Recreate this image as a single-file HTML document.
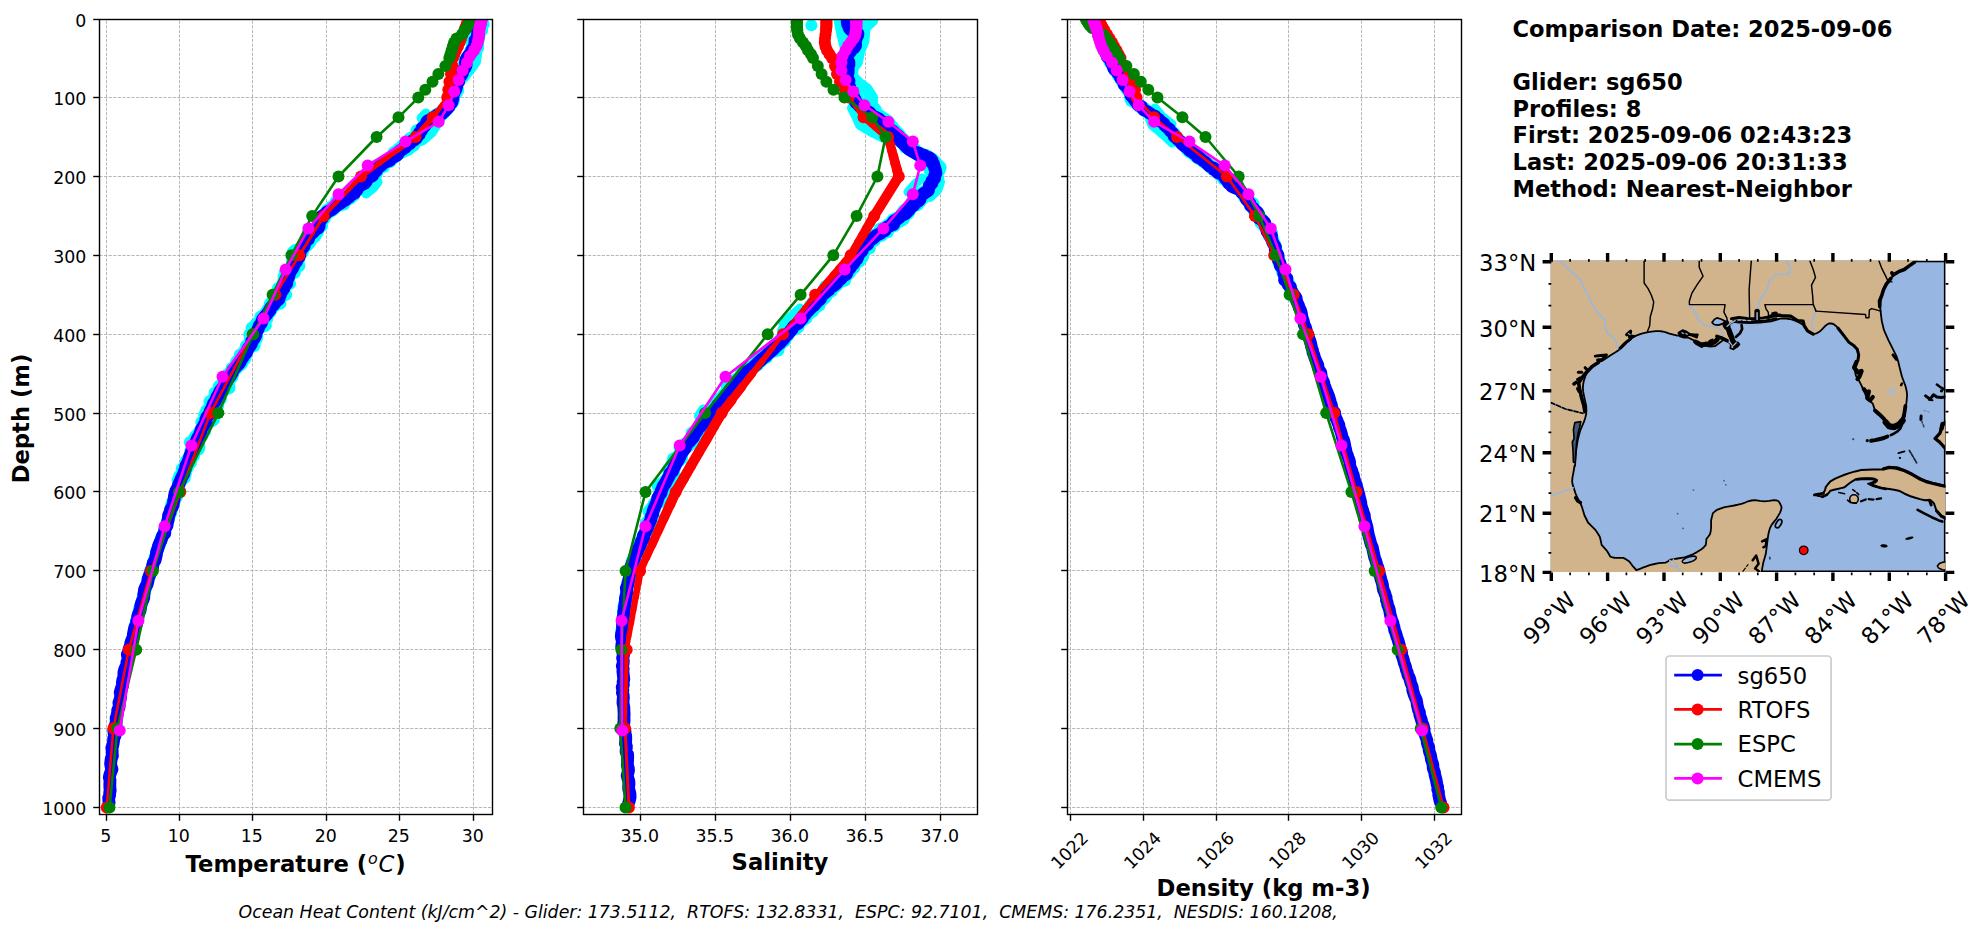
<!DOCTYPE html>
<html lang="en"><head><meta charset="utf-8"><title>Glider vs Model Comparison 2025-09-06</title>
<style>html,body{margin:0;padding:0;background:#fff}svg{display:block}</style></head>
<body>
<svg width="1987" height="934" viewBox="0 0 1987 934" font-family='"DejaVu Sans","Liberation Sans",sans-serif'>
<rect width="1987" height="934" fill="#fff"/>
<defs>
<clipPath id="c0"><rect x="99.5" y="19.5" width="393.0" height="795.0"/></clipPath>
<clipPath id="c1"><rect x="583.5" y="19.5" width="394.0" height="795.0"/></clipPath>
<clipPath id="c2"><rect x="1067.5" y="19.5" width="394.0" height="795.0"/></clipPath>
<clipPath id="cm"><rect x="1550.8" y="260.8" width="394.6" height="311.2"/></clipPath>
</defs>
<g stroke="#b0b0b0" stroke-width="1" stroke-opacity="0.9" stroke-dasharray="3.19 1.38" fill="none">
<path d="M106.5 814.5V19.5"/>
<path d="M179.5 814.5V19.5"/>
<path d="M252.5 814.5V19.5"/>
<path d="M326.5 814.5V19.5"/>
<path d="M399.5 814.5V19.5"/>
<path d="M473.5 814.5V19.5"/>
<path d="M99.5 19.5H492.5"/>
<path d="M99.5 97.5H492.5"/>
<path d="M99.5 176.5H492.5"/>
<path d="M99.5 255.5H492.5"/>
<path d="M99.5 334.5H492.5"/>
<path d="M99.5 413.5H492.5"/>
<path d="M99.5 491.5H492.5"/>
<path d="M99.5 570.5H492.5"/>
<path d="M99.5 649.5H492.5"/>
<path d="M99.5 728.5H492.5"/>
<path d="M99.5 807.5H492.5"/>
</g>
<g clip-path="url(#c0)">
<path d="M480.7 18.7 478.2 21.5 483.6 24.4 479.9 27.2 481.5 30.0 477.3 32.7 476.4 35.3 475.4 38.0 475.4 40.4 472.8 42.9 477.7 45.3 475.2 47.7 470.5 50.1 473.0 52.5 469.0 55.0 466.9 57.4 467.2 60.0 467.2 62.7 466.3 65.1 464.3 67.6 463.1 70.0 461.4 73.0 458.8 76.0 458.3 79.0 457.3 82.0 456.7 84.2 455.5 86.5 455.0 88.8 453.2 91.0 453.1 93.2 452.2 95.3 452.6 97.5 450.9 100.7 452.6 102.8 448.6 105.0 447.8 107.1 447.4 109.3 445.2 111.4 444.4 112.6 441.0 113.7 435.9 114.8 435.6 116.0 437.1 117.2 434.3 118.5 432.5 119.8 431.7 121.0 431.1 123.5 430.6 126.0 426.2 128.3 416.6 130.5 420.5 132.8 420.9 134.5 420.2 136.3 417.4 138.0 415.0 139.8 410.6 141.7 412.9 143.5 414.1 145.3 410.6 147.1 409.4 148.8 406.0 150.6 401.7 152.4 396.8 154.2 396.8 155.7 394.6 157.3 388.5 158.8 388.1 160.4 383.1 161.9 384.9 163.5 376.9 165.0 373.8 166.8 377.5 168.6 376.8 170.3 372.5 172.1 373.1 173.9 372.1 175.7 367.9 177.6 366.9 179.6 359.9 181.5 360.0 183.4 355.1 185.6 357.3 187.8 354.4 190.0 351.4 191.7 350.1 193.4 354.3 195.1 351.9 196.8 347.2 198.4 347.2 199.9 342.8 201.4 343.6 203.0 343.9 204.4 337.7 205.8 330.5 207.2 330.2 208.6 330.0 210.0 327.5 212.0 326.4 214.0 323.9 216.0 323.0 218.5 319.9 221.0 318.7 223.5 321.1 225.8 315.6 228.0 311.7 230.2 317.6 232.5 314.8 234.8 311.7 237.0 311.3 239.2 308.9 241.4 306.6 243.7 306.6 245.9 301.5 248.1 295.0 250.3 292.7 252.5 296.0 254.8 293.3 257.0 298.9 259.2 292.2 261.5 292.9 263.7 294.4 265.9 295.8 268.1 291.0 270.4 294.7 272.6 287.9 274.8 287.1 277.0 287.5 279.2 283.3 281.5 283.8 283.8 285.3 286.0 279.9 288.2 277.4 290.5 280.1 292.6 278.7 294.8 278.0 296.9 276.9 299.1 273.8 301.2 270.1 303.4 271.1 305.6 268.9 307.9 269.2 310.1 270.4 312.3 267.0 314.6 263.1 316.8 264.0 319.0 260.1 321.2 264.9 323.4 256.4 325.6 251.7 327.8 253.5 330.0 251.5 332.2 255.4 334.5 257.2 336.8 250.2 339.0 252.8 341.2 252.5 343.5 246.0 345.8 249.9 348.0 247.5 350.2 247.2 352.5 243.7 354.8 244.2 357.0 241.2 359.2 236.4 361.4 242.0 363.6 239.6 365.9 231.7 368.1 233.8 370.3 233.2 372.5 232.9 374.8 232.3 377.0 230.1 379.2 223.7 381.5 225.8 383.7 221.4 385.9 221.9 388.1 218.8 390.4 219.3 392.6 215.9 394.8 218.8 397.0 217.4 399.2 218.4 401.5 217.6 403.7 212.7 405.9 209.7 408.2 206.4 410.4 209.3 412.7 204.3 415.1 205.2 417.4 204.4 419.8 201.4 422.1 206.2 424.5 205.1 426.8 203.2 429.0 204.1 431.2 198.9 433.5 202.4 435.7 198.3 437.9 198.7 440.1 196.2 442.3 194.1 444.6 191.7 446.8 193.8 449.0 191.7 451.3 192.2 453.5 194.0 455.7 190.1 458.0 191.0 460.2 187.0 462.4 185.4 464.7 184.5 466.9 185.7 469.1 183.9 471.4 185.7 473.6 181.4 475.8 179.9 478.1 180.4 480.3 178.4 483.0 178.3 485.7 177.7 488.3 180.2 491.0 177.6 493.7 177.1 496.4 174.5 499.0 174.5 501.7 172.8 504.3 170.8 507.0 170.9 509.7 171.1 512.4 170.0 515.0 168.4 517.7 168.4 520.4 167.3 523.0 166.0 525.6 164.7 528.2 164.2 530.8 163.7 533.4 162.3 535.6 161.5 537.9 161.2 540.1 160.3 542.3 159.6 544.6 159.2 546.8 157.5 549.5 156.9 552.1 156.2 554.8 155.0 557.4 154.1 560.1 153.5 562.8 152.5 565.5 151.9 568.1 151.2 570.8 149.6 573.5 149.1 576.2 148.6 578.9 147.5 581.5 146.8 584.2 145.8 586.9 144.8 589.6 144.3 592.3 143.4 594.9 143.0 597.6 142.7 600.3 141.5 603.0 140.5 605.7 139.5 608.3 139.1 611.0 138.6 613.7 138.2 616.4 138.0 619.0 136.6 621.7 136.7 624.3 135.6 627.0 134.6 629.7 134.0 632.4 133.5 635.0 132.7 637.7" fill="none" stroke="#00ffff" stroke-width="12.2" stroke-linecap="round" stroke-linejoin="round"/>
<path d="M478.3 18.7 476.4 21.5 483.0 24.4 481.8 27.2 482.1 30.0 476.4 32.7 473.3 35.3 476.7 38.0 470.7 40.4 471.5 42.9 474.7 45.3 475.0 47.7 475.7 50.1 472.3 52.5 471.6 55.0 472.4 57.4 468.3 60.0 466.1 62.7 463.5 65.1 464.9 67.6 464.8 70.0 461.8 73.0 459.9 76.0 460.1 79.0 457.7 82.0 456.2 84.2 455.5 86.5 453.8 88.8 455.5 91.0 454.5 93.2 453.9 95.3 451.8 97.5 453.7 100.7 452.1 102.8 450.8 105.0 449.1 107.1 445.5 109.3 443.1 111.4 439.5 112.6 438.2 113.7 439.6 114.8 440.2 116.0 433.6 117.2 430.1 118.5 427.1 119.8 431.5 121.0 424.4 123.5 426.6 126.0 423.3 128.3 420.7 130.5 421.5 132.8 418.7 134.5 422.6 136.3 420.6 138.0 421.1 139.8 410.0 141.7 406.5 143.5 402.2 145.3 402.9 147.1 398.4 148.8 397.2 150.6 393.8 152.4 395.0 154.2 395.1 155.7 390.5 157.3 392.8 158.8 391.4 160.4 390.0 161.9 381.1 163.5 383.7 165.0 383.7 166.8 376.0 168.6 375.7 170.3 377.1 172.1 376.8 173.9 372.5 175.7 373.3 177.6 364.9 179.6 369.6 181.5 363.8 183.4 358.8 185.6 356.6 187.8 355.7 190.0 349.0 191.7 352.6 193.4 353.8 195.1 350.2 196.8 345.1 198.4 345.9 199.9 335.8 201.4 336.4 203.0 338.8 204.4 337.6 205.8 333.2 207.2 330.6 208.6 326.9 210.0 329.9 212.0 326.9 214.0 324.9 216.0 324.9 218.5 321.2 221.0 320.0 223.5 318.4 225.8 315.1 228.0 311.6 230.2 308.0 232.5 315.7 234.8 315.0 237.0 308.2 239.2 307.9 241.4 304.6 243.7 303.7 245.9 302.0 248.1 295.6 250.3 294.4 252.5 300.1 254.8 295.8 257.0 299.0 259.2 294.7 261.5 297.4 263.7 299.3 265.9 295.4 268.1 295.1 270.4 288.8 272.6 289.8 274.8 287.4 277.0 288.9 279.2 289.0 281.5 284.9 283.8 283.3 286.0 280.6 288.2 281.9 290.5 283.2 292.6 286.1 294.8 279.6 296.9 278.4 299.1 277.6 301.2 280.4 303.4 273.2 305.6 269.1 307.9 271.3 310.1 265.9 312.3 266.7 314.6 260.5 316.8 260.5 319.0 260.4 321.2 256.3 323.4 259.9 325.6 259.4 327.8 255.1 330.0 252.2 332.2 249.4 334.5 252.6 336.8 256.5 339.0 252.3 341.2 252.4 343.5 248.3 345.8 249.3 348.0 244.6 350.2 246.3 352.5 241.0 354.8 240.5 357.0 244.8 359.2 242.0 361.4 236.0 363.6 237.3 365.9 237.1 368.1 234.6 370.3 233.6 372.5 230.2 374.8 231.9 377.0 229.9 379.2 223.8 381.5 223.6 383.7 229.0 385.9 229.2 388.1 221.8 390.4 214.8 392.6 217.6 394.8 219.1 397.0 220.7 399.2 216.8 401.5 216.4 403.7 218.0 405.9 215.4 408.2 213.7 410.4 206.0 412.7 205.8 415.1 205.8 417.4 204.2 419.8 205.6 422.1 202.9 424.5 202.0 426.8 202.5 429.0 205.0 431.2 198.4 433.5 195.6 435.7 194.3 437.9 195.0 440.1 195.6 442.3 196.1 444.6 193.8 446.8 192.7 449.0 190.4 451.3 192.2 453.5 190.4 455.7 189.1 458.0 186.5 460.2 187.8 462.4 189.1 464.7 185.7 466.9 181.9 469.1 182.6 471.4 182.9 473.6 179.4 475.8 179.1 478.1 179.1 480.3 178.7 483.0 178.1 485.7 177.2 488.3 175.8 491.0 176.8 493.7 174.9 496.4 174.1 499.0 172.3 501.7 172.3 504.3 172.4 507.0 171.7 509.7 170.8 512.4 170.0 515.0 168.0 517.7 168.2 520.4 166.6 523.0 166.1 525.6 164.7 528.2 164.2 530.8 163.7 533.4 162.6 535.6 161.9 537.9 160.9 540.1 160.0 542.3 158.6 544.6 158.1 546.8 157.4 549.5 156.6 552.1 156.5 554.8 155.5 557.4 154.9 560.1 153.7 562.8 152.8 565.5 151.6 568.1 150.5 570.8 149.6 573.5 149.3 576.2 148.4 578.9 147.4 581.5 146.9 584.2 145.7 586.9 145.5 589.6 144.6 592.3 143.8 594.9 142.9 597.6 142.6 600.3 142.1 603.0 140.9 605.7 140.6 608.3 139.4 611.0 138.5 613.7 137.7 616.4 136.8 619.0 136.1 621.7 135.6 624.3 135.5 627.0 134.7 629.7 134.3 632.4 134.1 635.0 133.4 637.7" fill="none" stroke="#00ffff" stroke-width="12.2" stroke-linecap="round" stroke-linejoin="round"/>
<path d="M480.1 18.7 475.0 21.5 474.6 24.4 475.5 27.2 473.3 30.0 475.1 32.7 474.7 35.3 473.5 38.0 473.0 40.4 474.4 42.9 478.1 45.3 478.0 47.7 471.8 50.1 473.5 52.5 472.0 55.0 468.7 57.4 464.6 60.0 464.9 62.7 464.1 65.1 464.7 67.6 461.0 70.0 458.6 73.0 458.4 76.0 457.7 79.0 457.3 82.0 455.4 84.2 455.7 86.5 457.8 88.8 457.9 91.0 456.5 93.2 452.9 95.3 453.2 97.5 451.4 100.7 450.2 102.8 448.6 105.0 447.0 107.1 444.9 109.3 442.6 111.4 442.3 112.6 443.3 113.7 438.7 114.8 441.1 116.0 435.9 117.2 427.8 118.5 426.3 119.8 432.4 121.0 430.9 123.5 426.4 126.0 422.1 128.3 424.5 130.5 421.8 132.8 418.5 134.5 418.2 136.3 410.1 138.0 411.9 139.8 410.6 141.7 413.6 143.5 411.5 145.3 404.7 147.1 402.4 148.8 399.1 150.6 394.3 152.4 395.2 154.2 394.0 155.7 390.7 157.3 390.3 158.8 386.8 160.4 387.4 161.9 381.1 163.5 383.1 165.0 381.6 166.8 378.8 168.6 373.7 170.3 376.8 172.1 375.0 173.9 372.8 175.7 371.4 177.6 370.6 179.6 363.2 181.5 361.0 183.4 364.2 185.6 362.3 187.8 358.2 190.0 351.9 191.7 354.0 193.4 350.0 195.1 348.5 196.8 350.5 198.4 344.2 199.9 340.4 201.4 339.6 203.0 336.9 204.4 333.3 205.8 334.7 207.2 334.6 208.6 333.5 210.0 326.0 212.0 325.9 214.0 323.2 216.0 324.1 218.5 322.2 221.0 320.7 223.5 321.9 225.8 317.3 228.0 316.9 230.2 313.6 232.5 310.7 234.8 311.5 237.0 310.9 239.2 310.6 241.4 309.2 243.7 304.3 245.9 302.1 248.1 302.9 250.3 302.6 252.5 300.2 254.8 299.0 257.0 293.0 259.2 294.9 261.5 294.3 263.7 292.1 265.9 290.8 268.1 294.0 270.4 285.0 272.6 285.2 274.8 283.7 277.0 286.5 279.2 284.1 281.5 289.9 283.8 283.7 286.0 278.2 288.2 284.1 290.5 278.9 292.6 280.2 294.8 282.1 296.9 277.3 299.1 274.7 301.2 275.2 303.4 275.0 305.6 271.0 307.9 267.3 310.1 268.5 312.3 264.1 314.6 265.0 316.8 267.2 319.0 262.1 321.2 260.7 323.4 265.7 325.6 258.4 327.8 255.5 330.0 253.7 332.2 256.8 334.5 256.3 336.8 253.3 339.0 250.2 341.2 252.5 343.5 254.6 345.8 247.8 348.0 247.2 350.2 244.5 352.5 239.9 354.8 245.7 357.0 239.4 359.2 241.0 361.4 238.5 363.6 239.0 365.9 233.6 368.1 233.6 370.3 230.1 372.5 226.8 374.8 229.4 377.0 224.0 379.2 223.6 381.5 223.5 383.7 219.0 385.9 222.1 388.1 219.5 390.4 219.7 392.6 215.5 394.8 216.9 397.0 213.4 399.2 209.6 401.5 214.0 403.7 213.5 405.9 212.1 408.2 212.0 410.4 213.1 412.7 208.3 415.1 209.9 417.4 213.7 419.8 209.5 422.1 203.8 424.5 202.0 426.8 204.9 429.0 199.2 431.2 200.3 433.5 201.8 435.7 197.5 437.9 197.0 440.1 189.9 442.3 198.8 444.6 199.2 446.8 198.9 449.0 193.3 451.3 192.3 453.5 191.3 455.7 191.2 458.0 190.6 460.2 190.8 462.4 184.9 464.7 188.2 466.9 186.0 469.1 184.7 471.4 184.6 473.6 182.5 475.8 184.6 478.1 177.8 480.3 180.3 483.0 178.4 485.7 178.6 488.3 177.0 491.0 176.8 493.7 175.4 496.4 175.0 499.0 173.5 501.7 171.4 504.3 172.3 507.0 170.9 509.7 170.0 512.4 168.7 515.0 169.1 517.7 167.6 520.4 167.1 523.0 166.6 525.6 165.7 528.2 164.6 530.8 163.3 533.4 162.6 535.6 161.6 537.9 160.9 540.1 160.5 542.3 159.5 544.6 158.2 546.8 157.2 549.5 156.8 552.1 156.0 554.8 155.3 557.4 154.2 560.1 153.7 562.8 152.6 565.5 151.6 568.1 150.9 570.8 150.1 573.5 149.7 576.2 148.1 578.9 147.4 581.5 146.9 584.2 146.2 586.9 145.1 589.6 144.8 592.3 143.4 594.9 142.9 597.6 142.7 600.3 141.7 603.0 140.6 605.7 139.7 608.3 139.7 611.0 138.5 613.7 138.2 616.4 137.7 619.0 136.2 621.7 135.7 624.3 135.3 627.0 135.0 629.7 134.3 632.4 133.4 635.0 132.8 637.7" fill="none" stroke="#00ffff" stroke-width="12.2" stroke-linecap="round" stroke-linejoin="round"/>
<path d="M482.5 19.0 L481.5 26.0 L477.0 47.5 L475.0 61.4 L470.5 67.8 L462.0 78.5" fill="none" stroke="#00ffff" stroke-width="12" stroke-linecap="round" stroke-linejoin="round"/>
<path d="M440.0 118.0 L436.5 125.0 L431.5 132.8 L423.0 140.0" fill="none" stroke="#00ffff" stroke-width="10" stroke-linecap="round" stroke-linejoin="round"/>
<path d="M426.0 113.0 L421.0 118.0" fill="none" stroke="#00ffff" stroke-width="9" stroke-linecap="round" stroke-linejoin="round"/>
<path d="M378.0 182.0 L373.5 188.0 L366.0 194.0" fill="none" stroke="#00ffff" stroke-width="9" stroke-linecap="round" stroke-linejoin="round"/>
<path d="M477.3 18.7 477.3 21.5 476.8 24.4 476.1 27.2 477.2 30.0 478.0 32.7 477.3 35.3 477.8 38.0 475.0 40.4 474.9 42.9 475.3 45.3 473.5 47.7 471.8 50.1 471.4 52.5 468.9 55.0 467.2 57.4 466.0 60.0 465.5 62.7 466.1 65.1 465.2 67.6 463.0 70.0 462.5 73.0 460.8 76.0 457.3 79.0 458.5 82.0 454.9 84.2 456.7 86.5 456.0 88.8 454.9 91.0 453.8 93.2 453.0 95.3 453.1 97.5 452.2 100.7 451.7 102.8 448.6 105.0 448.7 107.1 446.6 109.3 444.6 111.4 441.6 112.6 442.2 113.7 437.6 114.8 436.2 116.0 434.3 117.2 431.9 118.5 430.0 119.8 427.3 121.0 426.3 123.5 424.7 126.0 421.9 128.3 421.5 130.5 419.5 132.8 419.3 134.5 416.9 136.3 416.6 138.0 414.4 139.8 410.9 141.7 410.1 143.5 405.6 145.3 405.8 147.1 403.1 148.8 400.4 150.6 398.4 152.4 397.9 154.2 396.4 155.7 392.8 157.3 389.5 158.8 390.0 160.4 385.5 161.9 383.1 163.5 381.7 165.0 379.2 166.8 377.1 168.6 376.6 170.3 374.9 172.1 372.6 173.9 372.5 175.7 368.8 177.6 366.4 179.6 366.3 181.5 364.7 183.4 360.3 185.6 357.6 187.8 357.0 190.0 355.3 191.7 354.2 193.4 350.8 195.1 349.4 196.8 347.0 198.4 345.6 199.9 342.9 201.4 340.8 203.0 338.2 204.4 336.4 205.8 334.7 207.2 333.0 208.6 331.2 210.0 327.1 212.0 325.4 214.0 322.1 216.0 322.3 218.5 319.4 221.0 319.3 223.5 319.2 225.8 318.3 228.0 315.0 230.2 313.1 232.5 310.1 234.8 308.9 237.0 308.5 239.2 305.4 241.4 304.6 243.7 304.3 245.9 302.5 248.1 300.8 250.3 299.6 252.5 299.9 254.8 299.1 257.0 297.4 259.2 296.7 261.5 293.7 263.7 293.7 265.9 292.7 268.1 291.0 270.4 289.9 272.6 289.2 274.8 288.6 277.0 287.4 279.2 286.9 281.5 286.7 283.8 284.7 286.0 284.0 288.2 282.6 290.5 280.6 292.6 280.4 294.8 278.3 296.9 279.0 299.1 276.3 301.2 274.8 303.4 272.8 305.6 270.6 307.9 270.1 310.1 268.2 312.3 266.6 314.6 264.5 316.8 262.8 319.0 261.9 321.2 261.2 323.4 259.3 325.6 258.6 327.8 257.7 330.0 256.2 332.2 256.0 334.5 255.1 336.8 253.8 339.0 251.7 341.2 251.6 343.5 250.2 345.8 248.4 348.0 247.4 350.2 246.5 352.5 244.3 354.8 243.2 357.0 241.3 359.2 240.5 361.4 239.2 363.6 236.8 365.9 234.9 368.1 233.0 370.3 232.3 372.5 231.0 374.8 229.7 377.0 227.9 379.2 226.8 381.5 224.9 383.7 223.8 385.9 222.5 388.1 220.6 390.4 219.4 392.6 218.4 394.8 217.0 397.0 216.2 399.2 215.1 401.5 213.4 403.7 212.7 405.9 211.8 408.2 210.5 410.4 209.8 412.7 208.6 415.1 206.7 417.4 205.8 419.8 206.2 422.1 204.2 424.5 203.0 426.8 201.5 429.0 201.0 431.2 199.9 433.5 199.5 435.7 197.6 437.9 196.7 440.1 195.7 442.3 194.9 444.6 194.6 446.8 192.9 449.0 191.5 451.3 191.0 453.5 189.8 455.7 189.4 458.0 188.7 460.2 187.7 462.4 186.5 464.7 185.6 466.9 185.4 469.1 184.3 471.4 183.8 473.6 182.6 475.8 181.4 478.1 180.6 480.3 179.4 483.0 178.3 485.7 177.4 488.3 175.8 491.0 175.0 493.7 174.4 496.4 174.2 499.0 173.6 501.7 173.2 504.3 172.3 507.0 170.5 509.7 170.1 512.4 168.7 515.0 168.4 517.7 168.0 520.4 167.3 523.0 167.0 525.6 165.4 528.2 164.7 530.8 164.8 533.4 162.7 535.6 161.8 537.9 161.1 540.1 160.0 542.3 159.1 544.6 158.3 546.8 157.6 549.5 156.6 552.1 156.3 554.8 155.8 557.4 155.1 560.1 153.3 562.8 152.7 565.5 152.5 568.1 150.9 570.8 150.4 573.5 149.1 576.2 148.1 578.9 147.9 581.5 147.2 584.2 145.6 586.9 144.5 589.6 144.2 592.3 143.8 594.9 143.8 597.6 142.6 600.3 141.5 603.0 140.8 605.7 140.4 608.3 139.9 611.0 138.6 613.7 137.7 616.4 137.8 619.0 136.6 621.7 136.5 624.3 134.9 627.0 134.3 629.7 133.7 632.4 133.3 635.0 133.2 637.7 131.7 640.4 130.9 642.6 130.6 644.9 129.8 647.1 129.0 649.4 128.6 652.0 127.3 654.5 127.9 657.1 127.9 659.7 126.9 662.3 126.7 664.9 125.6 667.4 124.5 670.0 123.9 672.5 123.9 675.0 123.7 677.5 122.8 680.0 122.4 682.5 122.6 685.0 121.7 687.5 120.9 690.0 120.2 692.5 120.7 695.1 120.5 697.6 120.0 700.1 118.9 702.7 119.3 705.2 118.9 707.8 117.7 710.3 117.6 712.9 117.0 715.5 116.1 718.1 116.3 720.6 116.1 723.2 115.1 725.8 114.4 728.4 113.8 730.8 114.1 733.3 115.0 735.7 113.7 738.2 113.6 740.6 113.2 743.1 112.7 745.5 111.8 748.0 112.2 750.4 112.1 753.1 112.4 755.8 111.3 758.5 110.9 761.2 110.6 763.9 111.1 766.5 112.0 769.2 110.9 771.9 109.9 774.6 109.3 777.3 110.0 780.0 109.9 782.6 109.8 785.1 109.9 787.7 110.2 790.2 109.7 792.8 109.6 795.3 108.7 797.9 108.8 800.4 109.1 803.0" fill="none" stroke="#0000ff" stroke-width="12.8" stroke-linecap="round" stroke-linejoin="round"/>
<path d="M468.3 18.7 L468.0 20.3" fill="none" stroke="#ff0000" stroke-width="2.6" stroke-linecap="round" stroke-linejoin="round"/>
<path d="M468.0 20.3 L467.6 21.9" fill="none" stroke="#ff0000" stroke-width="2.6" stroke-linecap="round" stroke-linejoin="round"/>
<path d="M467.6 21.9 L467.2 23.4" fill="none" stroke="#ff0000" stroke-width="2.6" stroke-linecap="round" stroke-linejoin="round"/>
<path d="M467.2 23.4 L466.7 25.0" fill="none" stroke="#ff0000" stroke-width="2.6" stroke-linecap="round" stroke-linejoin="round"/>
<path d="M466.7 25.0 L466.0 26.6" fill="none" stroke="#ff0000" stroke-width="2.6" stroke-linecap="round" stroke-linejoin="round"/>
<path d="M466.0 26.6 L465.4 28.2" fill="none" stroke="#ff0000" stroke-width="2.6" stroke-linecap="round" stroke-linejoin="round"/>
<path d="M465.4 28.2 L464.6 30.5" fill="none" stroke="#ff0000" stroke-width="2.6" stroke-linecap="round" stroke-linejoin="round"/>
<path d="M464.6 30.5 L462.5 34.5" fill="none" stroke="#ff0000" stroke-width="2.6" stroke-linecap="round" stroke-linejoin="round"/>
<path d="M462.5 34.5 L461.0 38.4" fill="none" stroke="#ff0000" stroke-width="2.6" stroke-linecap="round" stroke-linejoin="round"/>
<path d="M461.0 38.4 L459.5 42.4" fill="none" stroke="#ff0000" stroke-width="2.6" stroke-linecap="round" stroke-linejoin="round"/>
<path d="M459.5 42.4 L458.0 46.3" fill="none" stroke="#ff0000" stroke-width="2.6" stroke-linecap="round" stroke-linejoin="round"/>
<path d="M458.0 46.3 L456.0 50.3" fill="none" stroke="#ff0000" stroke-width="2.6" stroke-linecap="round" stroke-linejoin="round"/>
<path d="M456.0 50.3 L454.3 54.2" fill="none" stroke="#ff0000" stroke-width="2.6" stroke-linecap="round" stroke-linejoin="round"/>
<path d="M454.3 54.2 L453.0 58.1" fill="none" stroke="#ff0000" stroke-width="2.6" stroke-linecap="round" stroke-linejoin="round"/>
<path d="M453.0 58.1 L452.5 66.0" fill="none" stroke="#ff0000" stroke-width="2.6" stroke-linecap="round" stroke-linejoin="round"/>
<path d="M452.5 66.0 L451.0 73.9" fill="none" stroke="#ff0000" stroke-width="2.6" stroke-linecap="round" stroke-linejoin="round"/>
<path d="M451.0 73.9 L449.4 81.8" fill="none" stroke="#ff0000" stroke-width="2.6" stroke-linecap="round" stroke-linejoin="round"/>
<path d="M449.4 81.8 L448.3 89.7" fill="none" stroke="#ff0000" stroke-width="2.6" stroke-linecap="round" stroke-linejoin="round"/>
<path d="M448.3 89.7 L448.1 91.0" fill="none" stroke="#ff0000" stroke-width="2.716666666666667" stroke-linecap="round" stroke-linejoin="round"/>
<path d="M448.1 91.0 L447.9 92.3" fill="none" stroke="#ff0000" stroke-width="2.95" stroke-linecap="round" stroke-linejoin="round"/>
<path d="M447.9 92.3 L447.8 93.6" fill="none" stroke="#ff0000" stroke-width="3.1833333333333336" stroke-linecap="round" stroke-linejoin="round"/>
<path d="M447.8 93.6 L447.6 95.0" fill="none" stroke="#ff0000" stroke-width="3.4166666666666665" stroke-linecap="round" stroke-linejoin="round"/>
<path d="M447.6 95.0 L447.4 96.3" fill="none" stroke="#ff0000" stroke-width="3.65" stroke-linecap="round" stroke-linejoin="round"/>
<path d="M447.4 96.3 L447.2 97.6" fill="none" stroke="#ff0000" stroke-width="3.8833333333333337" stroke-linecap="round" stroke-linejoin="round"/>
<path d="M447.2 97.6 L444.8 100.9" fill="none" stroke="#ff0000" stroke-width="4.125" stroke-linecap="round" stroke-linejoin="round"/>
<path d="M444.8 100.9 L442.4 104.2" fill="none" stroke="#ff0000" stroke-width="4.375" stroke-linecap="round" stroke-linejoin="round"/>
<path d="M442.4 104.2 L440.0 107.4" fill="none" stroke="#ff0000" stroke-width="4.625" stroke-linecap="round" stroke-linejoin="round"/>
<path d="M440.0 107.4 L437.6 110.7" fill="none" stroke="#ff0000" stroke-width="4.875" stroke-linecap="round" stroke-linejoin="round"/>
<path d="M437.6 110.7 L435.2 114.0" fill="none" stroke="#ff0000" stroke-width="5.125" stroke-linecap="round" stroke-linejoin="round"/>
<path d="M435.2 114.0 L432.8 117.3" fill="none" stroke="#ff0000" stroke-width="5.375" stroke-linecap="round" stroke-linejoin="round"/>
<path d="M432.8 117.3 L415.6 137.0" fill="none" stroke="#ff0000" stroke-width="5.5" stroke-linecap="round" stroke-linejoin="round"/>
<path d="M415.6 137.0 L406.5 143.6" fill="none" stroke="#ff0000" stroke-width="5.458333333333333" stroke-linecap="round" stroke-linejoin="round"/>
<path d="M406.5 143.6 L397.4 150.2" fill="none" stroke="#ff0000" stroke-width="5.375" stroke-linecap="round" stroke-linejoin="round"/>
<path d="M397.4 150.2 L388.3 156.7" fill="none" stroke="#ff0000" stroke-width="5.291666666666667" stroke-linecap="round" stroke-linejoin="round"/>
<path d="M388.3 156.7 L379.2 163.3" fill="none" stroke="#ff0000" stroke-width="5.208333333333333" stroke-linecap="round" stroke-linejoin="round"/>
<path d="M379.2 163.3 L370.1 169.9" fill="none" stroke="#ff0000" stroke-width="5.125" stroke-linecap="round" stroke-linejoin="round"/>
<path d="M370.1 169.9 L361.0 176.5" fill="none" stroke="#ff0000" stroke-width="5.041666666666667" stroke-linecap="round" stroke-linejoin="round"/>
<path d="M361.0 176.5 L354.8 183.0" fill="none" stroke="#ff0000" stroke-width="4.875" stroke-linecap="round" stroke-linejoin="round"/>
<path d="M354.8 183.0 L348.6 189.6" fill="none" stroke="#ff0000" stroke-width="4.625" stroke-linecap="round" stroke-linejoin="round"/>
<path d="M348.6 189.6 L342.4 196.2" fill="none" stroke="#ff0000" stroke-width="4.375" stroke-linecap="round" stroke-linejoin="round"/>
<path d="M342.4 196.2 L336.2 202.8" fill="none" stroke="#ff0000" stroke-width="4.125" stroke-linecap="round" stroke-linejoin="round"/>
<path d="M336.2 202.8 L330.0 209.3" fill="none" stroke="#ff0000" stroke-width="3.875" stroke-linecap="round" stroke-linejoin="round"/>
<path d="M330.0 209.3 L323.8 215.9" fill="none" stroke="#ff0000" stroke-width="3.625" stroke-linecap="round" stroke-linejoin="round"/>
<path d="M323.8 215.9 L319.7 222.5" fill="none" stroke="#ff0000" stroke-width="3.425" stroke-linecap="round" stroke-linejoin="round"/>
<path d="M319.7 222.5 L315.6 229.0" fill="none" stroke="#ff0000" stroke-width="3.275" stroke-linecap="round" stroke-linejoin="round"/>
<path d="M315.6 229.0 L311.6 235.6" fill="none" stroke="#ff0000" stroke-width="3.125" stroke-linecap="round" stroke-linejoin="round"/>
<path d="M311.6 235.6 L307.5 242.2" fill="none" stroke="#ff0000" stroke-width="2.975" stroke-linecap="round" stroke-linejoin="round"/>
<path d="M307.5 242.2 L303.4 248.8" fill="none" stroke="#ff0000" stroke-width="2.825" stroke-linecap="round" stroke-linejoin="round"/>
<path d="M303.4 248.8 L299.3 255.3" fill="none" stroke="#ff0000" stroke-width="2.675" stroke-linecap="round" stroke-linejoin="round"/>
<path d="M299.3 255.3 L275.3 294.8" fill="none" stroke="#ff0000" stroke-width="2.6" stroke-linecap="round" stroke-linejoin="round"/>
<path d="M275.3 294.8 L252.7 334.2" fill="none" stroke="#ff0000" stroke-width="2.6" stroke-linecap="round" stroke-linejoin="round"/>
<path d="M252.7 334.2 L210.4 413.1" fill="none" stroke="#ff0000" stroke-width="2.6" stroke-linecap="round" stroke-linejoin="round"/>
<path d="M210.4 413.1 L180.3 492.0" fill="none" stroke="#ff0000" stroke-width="2.6" stroke-linecap="round" stroke-linejoin="round"/>
<path d="M180.3 492.0 L150.9 570.9" fill="none" stroke="#ff0000" stroke-width="2.6" stroke-linecap="round" stroke-linejoin="round"/>
<path d="M150.9 570.9 L128.8 649.7" fill="none" stroke="#ff0000" stroke-width="2.6" stroke-linecap="round" stroke-linejoin="round"/>
<path d="M128.8 649.7 L113.4 728.6" fill="none" stroke="#ff0000" stroke-width="2.6" stroke-linecap="round" stroke-linejoin="round"/>
<path d="M113.4 728.6 L106.7 807.5" fill="none" stroke="#ff0000" stroke-width="2.6" stroke-linecap="round" stroke-linejoin="round"/>
<g fill="#ff0000"><circle cx="468.3" cy="18.7" r="6"/><circle cx="468.0" cy="20.3" r="6"/><circle cx="467.6" cy="21.9" r="6"/><circle cx="467.2" cy="23.4" r="6"/><circle cx="466.7" cy="25.0" r="6"/><circle cx="466.0" cy="26.6" r="6"/><circle cx="465.4" cy="28.2" r="6"/><circle cx="464.6" cy="30.5" r="6"/><circle cx="462.5" cy="34.5" r="6"/><circle cx="461.0" cy="38.4" r="6"/><circle cx="459.5" cy="42.4" r="6"/><circle cx="458.0" cy="46.3" r="6"/><circle cx="456.0" cy="50.3" r="6"/><circle cx="454.3" cy="54.2" r="6"/><circle cx="453.0" cy="58.1" r="6"/><circle cx="452.5" cy="66.0" r="6"/><circle cx="451.0" cy="73.9" r="6"/><circle cx="449.4" cy="81.8" r="6"/><circle cx="448.3" cy="89.7" r="6"/><circle cx="447.2" cy="97.6" r="6"/><circle cx="432.8" cy="117.3" r="6"/><circle cx="415.6" cy="137.0" r="6"/><circle cx="361.0" cy="176.5" r="6"/><circle cx="323.8" cy="215.9" r="6"/><circle cx="299.3" cy="255.3" r="6"/><circle cx="275.3" cy="294.8" r="6"/><circle cx="252.7" cy="334.2" r="6"/><circle cx="210.4" cy="413.1" r="6"/><circle cx="180.3" cy="492.0" r="6"/><circle cx="150.9" cy="570.9" r="6"/><circle cx="128.8" cy="649.7" r="6"/><circle cx="113.4" cy="728.6" r="6"/><circle cx="106.7" cy="807.5" r="6"/></g>
<path d="M470.5 18.7 L470.2 20.3 L469.7 21.9 L469.0 23.4 L468.3 25.0 L467.3 26.6 L466.4 28.2 L464.4 30.5 L462.0 34.5 L456.5 38.4 L454.1 42.4 L452.9 46.3 L451.7 50.3 L450.5 54.2 L449.3 58.1 L445.4 66.0 L438.4 73.9 L432.5 81.8 L425.3 89.7 L418.3 97.6 L398.5 117.3 L376.6 137.0 L338.5 176.5 L312.2 215.9 L291.4 255.3 L272.6 294.8 L253.2 334.2 L218.4 413.1 L179.0 492.0 L152.9 570.9 L136.2 649.7 L117.4 728.6 L109.5 807.5" fill="none" stroke="#008000" stroke-width="2.6" stroke-linecap="round" stroke-linejoin="round"/>
<g fill="#008000"><circle cx="470.5" cy="18.7" r="6"/><circle cx="470.2" cy="20.3" r="6"/><circle cx="469.7" cy="21.9" r="6"/><circle cx="469.0" cy="23.4" r="6"/><circle cx="468.3" cy="25.0" r="6"/><circle cx="467.3" cy="26.6" r="6"/><circle cx="466.4" cy="28.2" r="6"/><circle cx="464.4" cy="30.5" r="6"/><circle cx="462.0" cy="34.5" r="6"/><circle cx="456.5" cy="38.4" r="6"/><circle cx="454.1" cy="42.4" r="6"/><circle cx="452.9" cy="46.3" r="6"/><circle cx="451.7" cy="50.3" r="6"/><circle cx="450.5" cy="54.2" r="6"/><circle cx="449.3" cy="58.1" r="6"/><circle cx="445.4" cy="66.0" r="6"/><circle cx="438.4" cy="73.9" r="6"/><circle cx="432.5" cy="81.8" r="6"/><circle cx="425.3" cy="89.7" r="6"/><circle cx="418.3" cy="97.6" r="6"/><circle cx="398.5" cy="117.3" r="6"/><circle cx="376.6" cy="137.0" r="6"/><circle cx="338.5" cy="176.5" r="6"/><circle cx="312.2" cy="215.9" r="6"/><circle cx="291.4" cy="255.3" r="6"/><circle cx="272.6" cy="294.8" r="6"/><circle cx="253.2" cy="334.2" r="6"/><circle cx="218.4" cy="413.1" r="6"/><circle cx="179.0" cy="492.0" r="6"/><circle cx="152.9" cy="570.9" r="6"/><circle cx="136.2" cy="649.7" r="6"/><circle cx="117.4" cy="728.6" r="6"/><circle cx="109.5" cy="807.5" r="6"/></g>
<path d="M481.5 19.1 L481.5 19.9 L481.4 20.8 L481.3 21.7 L481.1 22.7 L480.8 23.8 L480.4 25.0 L480.0 26.2 L479.6 27.7 L479.4 29.3 L479.3 31.2 L479.2 33.3 L479.0 35.7 L478.6 38.6 L477.9 41.9 L476.5 45.9 L474.0 50.5 L470.0 56.1 L466.9 62.7 L462.6 70.6 L458.6 80.1 L454.3 91.5 L448.6 105.3 L438.7 121.8 L405.5 141.6 L367.7 165.5 L338.5 194.2 L308.4 228.6 L285.7 269.6 L263.5 318.6 L222.5 376.8 L191.4 445.5 L164.6 526.3 L138.4 620.8 L119.7 730.5" fill="none" stroke="#ff00ff" stroke-width="2.6" stroke-linecap="round" stroke-linejoin="round"/>
<g fill="#ff00ff"><circle cx="481.5" cy="19.1" r="6"/><circle cx="481.5" cy="19.9" r="6"/><circle cx="481.4" cy="20.8" r="6"/><circle cx="481.3" cy="21.7" r="6"/><circle cx="481.1" cy="22.7" r="6"/><circle cx="480.8" cy="23.8" r="6"/><circle cx="480.4" cy="25.0" r="6"/><circle cx="480.0" cy="26.2" r="6"/><circle cx="479.6" cy="27.7" r="6"/><circle cx="479.4" cy="29.3" r="6"/><circle cx="479.3" cy="31.2" r="6"/><circle cx="479.2" cy="33.3" r="6"/><circle cx="479.0" cy="35.7" r="6"/><circle cx="478.6" cy="38.6" r="6"/><circle cx="477.9" cy="41.9" r="6"/><circle cx="476.5" cy="45.9" r="6"/><circle cx="474.0" cy="50.5" r="6"/><circle cx="470.0" cy="56.1" r="6"/><circle cx="466.9" cy="62.7" r="6"/><circle cx="462.6" cy="70.6" r="6"/><circle cx="458.6" cy="80.1" r="6"/><circle cx="454.3" cy="91.5" r="6"/><circle cx="448.6" cy="105.3" r="6"/><circle cx="438.7" cy="121.8" r="6"/><circle cx="405.5" cy="141.6" r="6"/><circle cx="367.7" cy="165.5" r="6"/><circle cx="338.5" cy="194.2" r="6"/><circle cx="308.4" cy="228.6" r="6"/><circle cx="285.7" cy="269.6" r="6"/><circle cx="263.5" cy="318.6" r="6"/><circle cx="222.5" cy="376.8" r="6"/><circle cx="191.4" cy="445.5" r="6"/><circle cx="164.6" cy="526.3" r="6"/><circle cx="138.4" cy="620.8" r="6"/><circle cx="119.7" cy="730.5" r="6"/></g>
</g>
<rect x="99.5" y="19.5" width="393.0" height="795.0" fill="none" stroke="#000" stroke-width="1.4"/>
<g stroke="#000" stroke-width="1.4">
<path d="M106.5 814.5v6.3"/>
<path d="M179.5 814.5v6.3"/>
<path d="M252.5 814.5v6.3"/>
<path d="M326.5 814.5v6.3"/>
<path d="M399.5 814.5v6.3"/>
<path d="M473.5 814.5v6.3"/>
<path d="M99.5 19.5h-6.3"/>
<path d="M99.5 97.5h-6.3"/>
<path d="M99.5 176.5h-6.3"/>
<path d="M99.5 255.5h-6.3"/>
<path d="M99.5 334.5h-6.3"/>
<path d="M99.5 413.5h-6.3"/>
<path d="M99.5 491.5h-6.3"/>
<path d="M99.5 570.5h-6.3"/>
<path d="M99.5 649.5h-6.3"/>
<path d="M99.5 728.5h-6.3"/>
<path d="M99.5 807.5h-6.3"/>
</g>
<g font-size="17.35" text-anchor="middle">
<text x="105.7" y="841.7">5</text>
<text x="178.7" y="841.7">10</text>
<text x="251.7" y="841.7">15</text>
<text x="325.7" y="841.7">20</text>
<text x="398.7" y="841.7">25</text>
<text x="472.7" y="841.7">30</text>
</g>
<g stroke="#b0b0b0" stroke-width="1" stroke-opacity="0.9" stroke-dasharray="3.19 1.38" fill="none">
<path d="M640.5 814.5V19.5"/>
<path d="M715.5 814.5V19.5"/>
<path d="M790.5 814.5V19.5"/>
<path d="M865.5 814.5V19.5"/>
<path d="M940.5 814.5V19.5"/>
<path d="M583.5 19.5H977.5"/>
<path d="M583.5 97.5H977.5"/>
<path d="M583.5 176.5H977.5"/>
<path d="M583.5 255.5H977.5"/>
<path d="M583.5 334.5H977.5"/>
<path d="M583.5 413.5H977.5"/>
<path d="M583.5 491.5H977.5"/>
<path d="M583.5 570.5H977.5"/>
<path d="M583.5 649.5H977.5"/>
<path d="M583.5 728.5H977.5"/>
<path d="M583.5 807.5H977.5"/>
</g>
<g clip-path="url(#c1)">
<path d="M848.6 19.0 845.9 21.7 848.1 24.3 845.0 27.0 850.7 28.3 854.9 29.7 853.5 31.0 850.6 32.5 855.6 33.9 859.4 35.4 859.4 37.7 855.1 40.0 852.4 42.0 851.5 44.0 853.3 46.0 847.3 47.8 850.7 49.7 845.5 51.5 844.7 54.1 843.3 56.8 846.7 59.5 847.0 62.1 840.9 64.8 844.0 67.5 846.0 70.2 847.3 72.8 849.3 75.5 848.0 78.2 846.5 80.9 848.2 83.6 850.0 86.3 849.1 89.0 850.6 91.8 855.0 94.7 857.6 97.5 855.2 99.8 855.8 102.2 860.7 104.5 860.6 106.1 865.3 107.7 868.9 109.2 869.1 110.8 874.5 112.4 872.0 114.0 875.8 115.7 879.0 117.3 878.4 119.0 879.2 120.7 881.0 122.3 884.9 124.0 889.5 125.8 886.9 127.5 888.9 129.3 893.1 131.1 898.1 132.9 897.7 134.6 897.5 136.4 899.3 138.2 904.4 140.0 905.8 141.9 906.5 143.7 907.8 145.5 910.8 147.3 908.8 149.2 915.9 151.0 917.1 152.1 918.7 153.1 921.9 154.2 926.8 155.3 924.9 156.4 925.2 157.4 927.2 158.5 925.6 160.3 933.3 162.2 932.8 164.0 931.8 167.2 936.1 170.3 934.7 173.2 931.6 176.0 938.1 178.5 930.1 181.0 930.8 183.4 928.7 185.8 928.5 188.3 925.8 190.7 922.0 192.5 920.3 194.3 920.7 196.1 917.0 197.8 920.7 199.6 911.8 201.4 912.1 203.2 918.0 204.9 911.3 206.7 907.2 208.5 903.7 210.2 906.9 212.0 908.1 213.8 904.3 215.6 901.5 217.4 903.7 219.2 901.0 221.0 896.0 222.8 893.0 224.3 893.1 225.9 885.6 227.4 882.4 228.9 884.2 230.4 887.8 232.0 883.1 233.5 882.2 235.3 875.8 237.1 873.1 238.8 874.6 240.6 868.7 242.4 865.0 244.2 866.9 246.4 865.5 248.5 858.5 250.7 861.5 252.8 855.8 255.0 857.3 257.1 856.7 259.3 853.1 261.4 853.8 263.6 852.7 265.7 851.5 267.8 851.3 270.0 850.3 272.1 846.8 274.3 843.2 276.4 841.4 277.8 841.2 279.3 844.8 280.7 837.5 282.5 834.9 284.3 834.8 286.0 830.8 287.8 827.3 289.6 827.2 291.4 821.6 293.2 820.1 295.0 820.3 296.8 821.9 298.5 819.6 300.3 820.8 302.1 817.2 303.9 819.2 305.7 815.3 307.5 812.7 309.2 813.2 311.0 810.7 312.8 808.1 314.6 803.3 316.4 798.1 318.1 803.5 319.9 800.0 321.7 793.9 323.5 790.1 325.3 793.0 327.1 796.1 328.9 790.1 330.6 787.4 332.4 784.8 334.2 787.9 336.0 784.9 337.8 783.3 339.6 783.1 341.4 781.5 343.2 780.1 345.0 778.8 346.8 775.0 348.6 778.2 350.4 771.2 352.1 768.4 353.9 764.3 355.7 766.4 357.5 762.9 359.4 761.1 361.2 758.7 363.0 757.9 364.5 756.1 366.1 753.1 367.6 745.0 369.2 742.0 370.7 741.3 372.5 741.1 374.3 743.1 376.0 741.8 377.8 735.0 379.6 737.2 381.4 738.4 383.2 734.3 385.0 732.0 386.8 728.2 388.5 731.3 390.3 728.2 392.1 729.4 394.2 725.3 396.4 725.1 398.5 723.4 400.7 718.7 402.8 713.1 404.9 712.2 407.1 713.6 409.2 709.6 411.4 710.0 413.5 710.4 415.6 709.1 417.8 704.7 419.9 703.0 422.1 701.4 424.2 699.9 426.3 700.6 428.5 696.9 430.6 691.8 432.8 692.1 434.9 692.0 437.1 692.4 439.2 694.9 441.4 690.8 443.5 685.0 445.7 684.3 447.8 683.1 450.0 679.9 452.1 679.4 454.3 678.3 456.4 681.8 458.5 675.9 460.7 673.1 462.8 672.9 465.0 674.1 467.1 668.1 469.3 669.9 471.4 674.0 473.5 675.0 475.7 672.8 477.8 665.7 480.0 663.3 482.1 660.4 484.2 664.1 486.4 666.0 488.5 664.7 490.7 662.9 492.8 659.3 495.5 659.9 498.1 662.4 500.8 657.7 503.5 653.0 506.2 650.7 508.9 648.6 511.5 651.3 514.2 651.0 516.9 651.6 519.6 648.5 522.3 647.9 525.0 646.5 527.7 647.6 530.4 645.2 533.0 644.5 535.7 642.2 538.4 640.4 541.0 641.7 543.7 638.8 546.4 637.4 548.9 637.4 551.4 636.6 553.9 635.0 556.4 634.7 558.9 633.2 561.4 632.9 564.1 632.4 566.8 631.5 569.4 630.6 572.1 629.5 574.8 629.4 577.5 628.6 580.1 628.3 582.8 628.0 585.5 627.1 588.1 627.2 590.8 626.5 593.5 626.1 596.2 625.9 598.9 624.9 601.5 624.8 604.2 624.3 606.9 623.8 609.6 623.6 612.3 623.5 615.0 623.2 617.7 623.3 620.4 622.6 623.0 622.2 625.7 621.9 628.4 621.5 631.0 621.5 633.7 622.0 636.4 622.9 639.1" fill="none" stroke="#00ffff" stroke-width="12.2" stroke-linecap="round" stroke-linejoin="round"/>
<path d="M842.9 19.0 849.6 21.7 849.1 24.3 846.5 27.0 849.2 28.3 853.6 29.7 851.8 31.0 853.8 32.5 854.9 33.9 858.3 35.4 859.7 37.7 856.7 40.0 856.2 42.0 851.4 44.0 847.6 46.0 852.4 47.8 851.1 49.7 853.3 51.5 850.1 54.1 847.8 56.8 851.7 59.5 847.8 62.1 842.7 64.8 845.2 67.5 852.4 70.2 852.0 72.8 843.3 75.5 849.0 78.2 849.0 80.9 846.2 83.6 848.0 86.3 843.9 89.0 845.3 91.8 850.3 94.7 850.7 97.5 856.8 99.8 861.0 102.2 863.3 104.5 864.1 106.1 863.5 107.7 864.9 109.2 864.3 110.8 870.6 112.4 873.0 114.0 875.3 115.7 875.0 117.3 875.9 119.0 875.6 120.7 880.9 122.3 884.7 124.0 887.9 125.8 888.1 127.5 891.0 129.3 891.1 131.1 893.4 132.9 899.4 134.6 899.1 136.4 897.3 138.2 901.3 140.0 903.3 141.9 906.9 143.7 909.8 145.5 911.7 147.3 909.2 149.2 910.5 151.0 913.8 152.1 915.7 153.1 919.4 154.2 918.2 155.3 926.3 156.4 926.2 157.4 931.8 158.5 934.2 160.3 932.3 162.2 934.0 164.0 933.1 167.2 929.7 170.3 937.7 173.2 936.3 176.0 935.6 178.5 931.6 181.0 932.0 183.4 931.8 185.8 931.3 188.3 929.7 190.7 925.8 192.5 918.2 194.3 918.3 196.1 916.4 197.8 917.1 199.6 920.8 201.4 915.2 203.2 916.0 204.9 910.4 206.7 910.6 208.5 907.6 210.2 909.4 212.0 906.3 213.8 905.3 215.6 898.4 217.4 894.9 219.2 894.6 221.0 895.6 222.8 894.0 224.3 894.8 225.9 884.6 227.4 880.0 228.9 880.0 230.4 879.4 232.0 879.2 233.5 872.9 235.3 876.7 237.1 873.6 238.8 871.2 240.6 866.6 242.4 863.8 244.2 863.2 246.4 863.7 248.5 865.3 250.7 860.1 252.8 858.1 255.0 857.2 257.1 858.7 259.3 859.6 261.4 851.0 263.6 851.3 265.7 850.1 267.8 846.1 270.0 845.1 272.1 848.5 274.3 835.6 276.4 838.8 277.8 834.6 279.3 836.7 280.7 838.7 282.5 834.5 284.3 825.5 286.0 824.7 287.8 831.4 289.6 831.5 291.4 823.5 293.2 826.8 295.0 824.9 296.8 818.3 298.5 816.4 300.3 813.7 302.1 812.8 303.9 812.2 305.7 811.5 307.5 814.4 309.2 806.8 311.0 807.5 312.8 805.8 314.6 804.3 316.4 806.4 318.1 803.2 319.9 798.8 321.7 795.7 323.5 798.1 325.3 798.4 327.1 790.3 328.9 783.2 330.6 789.3 332.4 788.0 334.2 786.1 336.0 783.5 337.8 780.1 339.6 781.7 341.4 778.8 343.2 777.1 345.0 773.6 346.8 773.5 348.6 770.0 350.4 771.1 352.1 765.6 353.9 767.1 355.7 766.6 357.5 758.8 359.4 756.2 361.2 757.1 363.0 758.0 364.5 751.4 366.1 751.3 367.6 748.5 369.2 751.1 370.7 750.4 372.5 746.2 374.3 741.2 376.0 740.1 377.8 739.7 379.6 738.1 381.4 735.7 383.2 732.3 385.0 726.8 386.8 727.6 388.5 730.9 390.3 729.7 392.1 725.9 394.2 726.3 396.4 719.0 398.5 719.1 400.7 715.8 402.8 721.3 404.9 716.7 407.1 719.1 409.2 719.6 411.4 716.1 413.5 716.8 415.6 714.0 417.8 712.4 419.9 704.9 422.1 702.6 424.2 698.8 426.3 699.8 428.5 700.2 430.6 694.9 432.8 694.6 434.9 691.8 437.1 696.1 439.2 691.7 441.4 691.0 443.5 689.1 445.7 684.8 447.8 680.4 450.0 680.2 452.1 681.6 454.3 679.4 456.4 673.2 458.5 675.8 460.7 672.5 462.8 671.5 465.0 672.8 467.1 671.5 469.3 669.5 471.4 669.2 473.5 670.8 475.7 674.5 477.8 673.6 480.0 668.9 482.1 666.8 484.2 664.4 486.4 665.7 488.5 666.4 490.7 660.9 492.8 661.6 495.5 660.1 498.1 657.3 500.8 656.4 503.5 653.2 506.2 651.9 508.9 652.8 511.5 652.0 514.2 652.3 516.9 650.3 519.6 646.6 522.3 645.8 525.0 645.6 527.7 646.1 530.4 646.3 533.0 643.4 535.7 643.9 538.4 641.9 541.0 640.3 543.7 640.9 546.4 638.5 548.9 638.6 551.4 636.7 553.9 635.3 556.4 634.7 558.9 633.4 561.4 632.3 564.1 631.4 566.8 631.7 569.4 631.3 572.1 630.0 574.8 629.0 577.5 628.7 580.1 627.8 582.8 627.6 585.5 626.9 588.1 626.8 590.8 626.3 593.5 626.6 596.2 625.1 598.9 625.0 601.5 624.5 604.2 623.5 606.9 624.3 609.6 623.8 612.3 623.5 615.0 623.5 617.7 623.0 620.4 622.5 623.0 622.3 625.7 622.4 628.4 621.8 631.0 621.6 633.7 621.4 636.4 621.6 639.1" fill="none" stroke="#00ffff" stroke-width="12.2" stroke-linecap="round" stroke-linejoin="round"/>
<path d="M852.9 19.0 851.1 21.7 851.0 24.3 847.4 27.0 849.9 28.3 850.8 29.7 849.9 31.0 849.9 32.5 855.8 33.9 858.8 35.4 855.9 37.7 858.5 40.0 854.8 42.0 855.6 44.0 850.5 46.0 853.3 47.8 853.0 49.7 852.7 51.5 849.5 54.1 846.5 56.8 847.3 59.5 854.3 62.1 851.7 64.8 847.3 67.5 850.1 70.2 846.0 72.8 847.7 75.5 843.2 78.2 846.2 80.9 851.6 83.6 846.2 86.3 848.4 89.0 848.0 91.8 850.6 94.7 856.1 97.5 856.4 99.8 857.8 102.2 864.2 104.5 861.4 106.1 863.8 107.7 865.3 109.2 865.7 110.8 863.6 112.4 874.3 114.0 872.3 115.7 878.8 117.3 875.6 119.0 879.7 120.7 883.9 122.3 888.3 124.0 884.2 125.8 884.2 127.5 887.2 129.3 885.4 131.1 895.8 132.9 894.8 134.6 900.4 136.4 900.7 138.2 898.1 140.0 900.2 141.9 906.4 143.7 906.7 145.5 904.8 147.3 915.1 149.2 915.2 151.0 917.7 152.1 917.0 153.1 918.2 154.2 923.6 155.3 926.8 156.4 927.5 157.4 927.0 158.5 928.7 160.3 933.4 162.2 937.1 164.0 940.5 167.2 939.5 170.3 936.4 173.2 933.5 176.0 938.0 178.5 934.9 181.0 932.1 183.4 928.8 185.8 928.3 188.3 927.2 190.7 928.5 192.5 923.3 194.3 924.6 196.1 923.7 197.8 919.5 199.6 912.6 201.4 914.1 203.2 913.5 204.9 910.2 206.7 909.9 208.5 910.2 210.2 909.1 212.0 901.6 213.8 901.5 215.6 898.8 217.4 893.1 219.2 891.8 221.0 896.2 222.8 888.0 224.3 887.0 225.9 887.2 227.4 888.0 228.9 880.5 230.4 879.8 232.0 876.7 233.5 877.4 235.3 875.2 237.1 872.9 238.8 872.9 240.6 867.8 242.4 865.2 244.2 866.0 246.4 869.6 248.5 857.5 250.7 854.9 252.8 860.6 255.0 862.9 257.1 856.8 259.3 849.9 261.4 852.6 263.6 853.3 265.7 854.2 267.8 849.3 270.0 848.2 272.1 845.6 274.3 846.1 276.4 842.6 277.8 838.8 279.3 840.9 280.7 834.3 282.5 831.8 284.3 836.6 286.0 831.8 287.8 828.6 289.6 826.8 291.4 825.2 293.2 827.2 295.0 825.6 296.8 824.7 298.5 822.0 300.3 812.7 302.1 813.2 303.9 809.9 305.7 811.5 307.5 807.9 309.2 810.9 311.0 804.8 312.8 805.1 314.6 804.8 316.4 802.5 318.1 800.7 319.9 798.3 321.7 797.1 323.5 795.7 325.3 790.3 327.1 791.9 328.9 792.0 330.6 788.1 332.4 788.7 334.2 783.9 336.0 781.6 337.8 781.7 339.6 784.6 341.4 778.6 343.2 780.2 345.0 772.5 346.8 770.9 348.6 768.5 350.4 765.7 352.1 766.1 353.9 763.4 355.7 760.9 357.5 756.7 359.4 761.3 361.2 758.3 363.0 756.7 364.5 756.0 366.1 752.8 367.6 748.1 369.2 742.4 370.7 747.7 372.5 744.9 374.3 742.3 376.0 738.5 377.8 742.1 379.6 740.5 381.4 736.3 383.2 733.4 385.0 729.6 386.8 731.8 388.5 732.6 390.3 730.0 392.1 723.5 394.2 724.8 396.4 725.4 398.5 721.8 400.7 721.3 402.8 717.5 404.9 719.0 407.1 713.6 409.2 713.3 411.4 712.6 413.5 712.8 415.6 707.5 417.8 702.9 419.9 702.1 422.1 703.6 424.2 701.6 426.3 701.7 428.5 697.8 430.6 698.5 432.8 693.2 434.9 693.4 437.1 691.4 439.2 692.2 441.4 685.1 443.5 682.9 445.7 679.7 447.8 682.3 450.0 681.2 452.1 682.1 454.3 680.2 456.4 676.6 458.5 679.7 460.7 676.2 462.8 671.3 465.0 673.6 467.1 674.4 469.3 673.2 471.4 670.0 473.5 668.3 475.7 671.4 477.8 667.5 480.0 664.3 482.1 661.7 484.2 658.0 486.4 661.3 488.5 659.9 490.7 664.0 492.8 661.0 495.5 658.4 498.1 657.4 500.8 654.0 503.5 654.7 506.2 655.0 508.9 650.9 511.5 653.4 514.2 653.5 516.9 651.2 519.6 649.8 522.3 648.5 525.0 648.6 527.7 645.8 530.4 645.0 533.0 645.0 535.7 643.8 538.4 642.5 541.0 641.4 543.7 638.0 546.4 638.5 548.9 638.7 551.4 636.5 553.9 635.3 556.4 633.6 558.9 631.7 561.4 632.4 564.1 631.7 566.8 631.0 569.4 630.6 572.1 629.8 574.8 629.5 577.5 628.9 580.1 627.5 582.8 627.9 585.5 627.5 588.1 626.3 590.8 625.9 593.5 625.8 596.2 625.4 598.9 625.1 601.5 624.4 604.2 624.2 606.9 623.6 609.6 623.4 612.3 623.5 615.0 623.3 617.7 623.2 620.4 622.9 623.0 623.1 625.7 622.5 628.4 622.3 631.0 621.6 633.7 621.8 636.4 622.2 639.1" fill="none" stroke="#00ffff" stroke-width="12.2" stroke-linecap="round" stroke-linejoin="round"/>
<path d="M839.2 20.0 L841.0 30.0 L843.5 40.8 L846.0 50.0" fill="none" stroke="#00ffff" stroke-width="11" stroke-linecap="round" stroke-linejoin="round"/>
<path d="M811.4 25.2 L811.4 25.3" fill="none" stroke="#00ffff" stroke-width="12" stroke-linecap="round" stroke-linejoin="round"/>
<path d="M872.4 20.0 L866.0 26.0 L864.4 30.0 L863.5 40.8 L859.0 51.5 L856.9 62.2 L852.5 67.5 L851.5 73.0 L853.5 78.2 L859.0 83.6 L866.5 89.0 L871.9 97.5 L871.9 105.0 L876.0 110.0" fill="none" stroke="#00ffff" stroke-width="12" stroke-linecap="round" stroke-linejoin="round"/>
<path d="M852.0 108.0 L856.0 116.0 L860.0 125.0 L870.0 131.0 L880.0 136.0 L890.0 141.0" fill="none" stroke="#00ffff" stroke-width="10" stroke-linecap="round" stroke-linejoin="round"/>
<path d="M879.0 113.0 L888.0 119.0 L898.0 131.0 L905.0 139.0" fill="none" stroke="#00ffff" stroke-width="9" stroke-linecap="round" stroke-linejoin="round"/>
<path d="M922.0 178.0 L915.0 184.0 L908.0 192.0" fill="none" stroke="#00ffff" stroke-width="9" stroke-linecap="round" stroke-linejoin="round"/>
<path d="M940.0 182.0 L937.4 189.6 L930.0 197.0" fill="none" stroke="#00ffff" stroke-width="10" stroke-linecap="round" stroke-linejoin="round"/>
<path d="M800.0 308.0 L791.0 316.0 L783.0 324.0" fill="none" stroke="#00ffff" stroke-width="9" stroke-linecap="round" stroke-linejoin="round"/>
<path d="M703.5 410.0 L699.5 416.0" fill="none" stroke="#00ffff" stroke-width="11" stroke-linecap="round" stroke-linejoin="round"/>
<path d="M847.4 19.0 847.2 21.7 847.6 24.3 849.0 27.0 849.2 28.3 850.7 29.7 852.5 31.0 855.4 32.5 857.9 33.9 857.7 35.4 856.3 37.7 855.9 40.0 855.0 42.0 855.6 44.0 855.5 46.0 854.0 47.8 850.4 49.7 850.7 51.5 848.1 54.1 847.0 56.8 847.5 59.5 848.9 62.1 848.9 64.8 848.2 67.5 848.2 70.2 848.1 72.8 847.3 75.5 847.6 78.2 849.0 80.9 848.3 83.6 849.5 86.3 848.5 89.0 851.9 91.8 853.1 94.7 853.0 97.5 855.3 99.8 855.5 102.2 858.4 104.5 859.5 106.1 862.5 107.7 863.7 109.2 866.5 110.8 869.4 112.4 870.9 114.0 872.3 115.7 875.8 117.3 879.0 119.0 880.2 120.7 884.1 122.3 884.7 124.0 886.8 125.8 889.0 127.5 889.5 129.3 893.0 131.1 894.7 132.9 896.5 134.6 898.8 136.4 900.4 138.2 902.6 140.0 903.2 141.9 906.8 143.7 908.5 145.5 909.0 147.3 910.5 149.2 912.6 151.0 915.5 152.1 919.0 153.1 920.7 154.2 924.3 155.3 924.1 156.4 928.8 157.4 930.5 158.5 932.0 160.3 931.1 162.2 933.7 164.0 934.4 167.2 935.4 170.3 935.9 173.2 934.6 176.0 934.6 178.5 931.7 181.0 931.9 183.4 929.3 185.8 928.8 188.3 928.3 190.7 925.2 192.5 922.7 194.3 921.0 196.1 918.5 197.8 919.8 199.6 918.1 201.4 914.5 203.2 914.2 204.9 911.8 206.7 909.7 208.5 908.9 210.2 907.0 212.0 905.1 213.8 901.1 215.6 899.6 217.4 897.2 219.2 894.2 221.0 892.5 222.8 893.7 224.3 890.0 225.9 886.7 227.4 885.7 228.9 885.3 230.4 881.9 232.0 880.4 233.5 876.6 235.3 874.6 237.1 872.5 238.8 869.3 240.6 868.3 242.4 867.8 244.2 864.1 246.4 862.3 248.5 862.3 250.7 860.0 252.8 858.5 255.0 857.7 257.1 856.8 259.3 853.4 261.4 853.8 263.6 851.3 265.7 850.3 267.8 847.9 270.0 847.3 272.1 846.2 274.3 842.4 276.4 841.7 277.8 840.5 279.3 837.3 280.7 837.3 282.5 835.5 284.3 833.3 286.0 830.2 287.8 829.1 289.6 826.8 291.4 824.7 293.2 822.4 295.0 821.4 296.8 820.6 298.5 818.9 300.3 816.9 302.1 815.4 303.9 813.8 305.7 811.4 307.5 809.8 309.2 808.1 311.0 806.3 312.8 805.1 314.6 803.1 316.4 802.7 318.1 801.0 319.9 799.5 321.7 798.2 323.5 794.9 325.3 793.1 327.1 792.3 328.9 790.6 330.6 789.3 332.4 787.8 334.2 785.8 336.0 784.6 337.8 783.2 339.6 780.9 341.4 779.9 343.2 777.8 345.0 775.7 346.8 773.9 348.6 772.1 350.4 770.1 352.1 768.0 353.9 766.3 355.7 763.9 357.5 761.7 359.4 759.7 361.2 757.6 363.0 756.7 364.5 754.4 366.1 753.0 367.6 750.6 369.2 748.7 370.7 745.8 372.5 745.2 374.3 743.7 376.0 741.2 377.8 739.5 379.6 736.8 381.4 736.5 383.2 734.5 385.0 733.7 386.8 730.9 388.5 729.6 390.3 728.9 392.1 726.5 394.2 725.1 396.4 723.3 398.5 721.3 400.7 719.8 402.8 717.8 404.9 716.7 407.1 714.9 409.2 713.0 411.4 711.9 413.5 709.3 415.6 706.8 417.8 705.9 419.9 704.2 422.1 702.1 424.2 700.7 426.3 698.4 428.5 697.3 430.6 695.7 432.8 694.3 434.9 693.5 437.1 691.7 439.2 689.7 441.4 687.5 443.5 686.1 445.7 685.5 447.8 683.8 450.0 682.3 452.1 680.9 454.3 680.0 456.4 679.1 458.5 677.7 460.7 676.5 462.8 675.4 465.0 674.2 467.1 673.2 469.3 672.5 471.4 670.0 473.5 669.3 475.7 668.2 477.8 667.0 480.0 666.0 482.1 664.6 484.2 663.0 486.4 662.4 488.5 661.3 490.7 661.1 492.8 659.2 495.5 657.7 498.1 657.3 500.8 656.3 503.5 655.0 506.2 653.9 508.9 653.0 511.5 652.6 514.2 651.1 516.9 650.8 519.6 649.8 522.3 648.4 525.0 647.7 527.7 646.2 530.4 645.1 533.0 643.3 535.7 643.7 538.4 641.6 541.0 640.7 543.7 639.9 546.4 638.3 548.9 637.5 551.4 636.2 553.9 634.9 556.4 634.3 558.9 633.2 561.4 631.9 564.1 630.9 566.8 631.6 569.4 630.3 572.1 629.6 574.8 629.3 577.5 628.9 580.1 628.1 582.8 627.5 585.5 626.3 588.1 626.7 590.8 626.7 593.5 626.0 596.2 625.4 598.9 625.5 601.5 625.0 604.2 624.5 606.9 624.3 609.6 623.7 612.3 623.9 615.0 623.0 617.7 622.5 620.4 622.6 623.0 622.6 625.7 622.5 628.4 622.5 631.0 621.6 633.7 621.3 636.4 621.9 639.1 622.4 641.8 621.9 644.6 621.7 647.3 622.6 650.0 622.9 652.7 623.5 655.3 622.6 658.0 623.3 660.7 623.2 663.3 622.3 666.0 623.2 668.7 622.9 671.3 623.2 674.0 623.5 676.7 623.8 679.3 623.1 682.0 623.4 684.7 622.2 687.3 622.9 690.0 622.4 692.6 623.2 695.1 623.4 697.7 623.1 700.3 623.0 702.9 623.5 705.4 623.9 708.0 623.9 710.6 624.1 713.1 624.1 715.7 624.0 718.3 624.1 720.9 623.7 723.4 623.6 726.0 623.9 728.5 625.0 731.0 625.0 733.5 625.7 736.0 625.8 738.5 625.7 741.0 625.5 743.7 626.4 746.3 626.2 749.0 626.1 751.7 627.6 754.3 627.7 757.0 627.6 759.7 627.5 762.3 627.3 765.0 628.2 767.7 628.5 770.3 627.9 773.0 627.2 775.7 627.9 778.4 628.8 781.0 629.0 783.7 628.7 786.4 628.7 789.1 629.5 791.8 630.0 794.5 630.1 797.1 629.5 799.8 628.8 802.5" fill="none" stroke="#0000ff" stroke-width="12.8" stroke-linecap="round" stroke-linejoin="round"/>
<path d="M877.0 121.0 L888.0 131.0 L898.0 141.0 L908.0 151.0 L918.0 157.0" fill="none" stroke="#0000ff" stroke-width="9" stroke-linecap="round" stroke-linejoin="round"/>
<path d="M826.4 18.7 L826.4 20.3" fill="none" stroke="#ff0000" stroke-width="2.6" stroke-linecap="round" stroke-linejoin="round"/>
<path d="M826.4 20.3 L826.4 21.9" fill="none" stroke="#ff0000" stroke-width="2.6" stroke-linecap="round" stroke-linejoin="round"/>
<path d="M826.4 21.9 L826.4 23.4" fill="none" stroke="#ff0000" stroke-width="2.6" stroke-linecap="round" stroke-linejoin="round"/>
<path d="M826.4 23.4 L826.4 25.0" fill="none" stroke="#ff0000" stroke-width="2.6" stroke-linecap="round" stroke-linejoin="round"/>
<path d="M826.4 25.0 L826.4 26.6" fill="none" stroke="#ff0000" stroke-width="2.6" stroke-linecap="round" stroke-linejoin="round"/>
<path d="M826.4 26.6 L826.2 28.2" fill="none" stroke="#ff0000" stroke-width="2.6" stroke-linecap="round" stroke-linejoin="round"/>
<path d="M826.2 28.2 L826.0 30.5" fill="none" stroke="#ff0000" stroke-width="2.6" stroke-linecap="round" stroke-linejoin="round"/>
<path d="M826.0 30.5 L825.5 34.5" fill="none" stroke="#ff0000" stroke-width="2.6" stroke-linecap="round" stroke-linejoin="round"/>
<path d="M825.5 34.5 L825.0 38.4" fill="none" stroke="#ff0000" stroke-width="2.6" stroke-linecap="round" stroke-linejoin="round"/>
<path d="M825.0 38.4 L824.8 42.4" fill="none" stroke="#ff0000" stroke-width="2.6" stroke-linecap="round" stroke-linejoin="round"/>
<path d="M824.8 42.4 L825.5 46.3" fill="none" stroke="#ff0000" stroke-width="2.6" stroke-linecap="round" stroke-linejoin="round"/>
<path d="M825.5 46.3 L827.0 50.3" fill="none" stroke="#ff0000" stroke-width="2.6" stroke-linecap="round" stroke-linejoin="round"/>
<path d="M827.0 50.3 L829.5 54.2" fill="none" stroke="#ff0000" stroke-width="2.6" stroke-linecap="round" stroke-linejoin="round"/>
<path d="M829.5 54.2 L832.0 58.1" fill="none" stroke="#ff0000" stroke-width="2.6" stroke-linecap="round" stroke-linejoin="round"/>
<path d="M832.0 58.1 L835.0 66.0" fill="none" stroke="#ff0000" stroke-width="2.6" stroke-linecap="round" stroke-linejoin="round"/>
<path d="M835.0 66.0 L837.0 73.9" fill="none" stroke="#ff0000" stroke-width="2.6" stroke-linecap="round" stroke-linejoin="round"/>
<path d="M837.0 73.9 L840.0 81.8" fill="none" stroke="#ff0000" stroke-width="2.6" stroke-linecap="round" stroke-linejoin="round"/>
<path d="M840.0 81.8 L845.0 89.7" fill="none" stroke="#ff0000" stroke-width="2.6" stroke-linecap="round" stroke-linejoin="round"/>
<path d="M845.0 89.7 L848.7 97.6" fill="none" stroke="#ff0000" stroke-width="2.6" stroke-linecap="round" stroke-linejoin="round"/>
<path d="M848.7 97.6 L851.2 100.9" fill="none" stroke="#ff0000" stroke-width="2.8833333333333333" stroke-linecap="round" stroke-linejoin="round"/>
<path d="M851.2 100.9 L853.6 104.2" fill="none" stroke="#ff0000" stroke-width="3.45" stroke-linecap="round" stroke-linejoin="round"/>
<path d="M853.6 104.2 L856.1 107.4" fill="none" stroke="#ff0000" stroke-width="4.016666666666667" stroke-linecap="round" stroke-linejoin="round"/>
<path d="M856.1 107.4 L858.6 110.7" fill="none" stroke="#ff0000" stroke-width="4.583333333333333" stroke-linecap="round" stroke-linejoin="round"/>
<path d="M858.6 110.7 L861.0 114.0" fill="none" stroke="#ff0000" stroke-width="5.15" stroke-linecap="round" stroke-linejoin="round"/>
<path d="M861.0 114.0 L863.5 117.3" fill="none" stroke="#ff0000" stroke-width="5.716666666666667" stroke-linecap="round" stroke-linejoin="round"/>
<path d="M863.5 117.3 L867.6 120.6" fill="none" stroke="#ff0000" stroke-width="6.25" stroke-linecap="round" stroke-linejoin="round"/>
<path d="M867.6 120.6 L871.7 123.9" fill="none" stroke="#ff0000" stroke-width="6.75" stroke-linecap="round" stroke-linejoin="round"/>
<path d="M871.7 123.9 L875.8 127.2" fill="none" stroke="#ff0000" stroke-width="7.25" stroke-linecap="round" stroke-linejoin="round"/>
<path d="M875.8 127.2 L879.9 130.4" fill="none" stroke="#ff0000" stroke-width="7.75" stroke-linecap="round" stroke-linejoin="round"/>
<path d="M879.9 130.4 L884.0 133.7" fill="none" stroke="#ff0000" stroke-width="8.25" stroke-linecap="round" stroke-linejoin="round"/>
<path d="M884.0 133.7 L888.1 137.0" fill="none" stroke="#ff0000" stroke-width="8.75" stroke-linecap="round" stroke-linejoin="round"/>
<path d="M888.1 137.0 L889.9 143.6" fill="none" stroke="#ff0000" stroke-width="9.083333333333334" stroke-linecap="round" stroke-linejoin="round"/>
<path d="M889.9 143.6 L891.7 150.2" fill="none" stroke="#ff0000" stroke-width="9.25" stroke-linecap="round" stroke-linejoin="round"/>
<path d="M891.7 150.2 L893.5 156.7" fill="none" stroke="#ff0000" stroke-width="9.416666666666666" stroke-linecap="round" stroke-linejoin="round"/>
<path d="M893.5 156.7 L895.2 163.3" fill="none" stroke="#ff0000" stroke-width="9.583333333333334" stroke-linecap="round" stroke-linejoin="round"/>
<path d="M895.2 163.3 L897.0 169.9" fill="none" stroke="#ff0000" stroke-width="9.75" stroke-linecap="round" stroke-linejoin="round"/>
<path d="M897.0 169.9 L898.8 176.5" fill="none" stroke="#ff0000" stroke-width="9.916666666666666" stroke-linecap="round" stroke-linejoin="round"/>
<path d="M898.8 176.5 L874.2 215.9" fill="none" stroke="#ff0000" stroke-width="10.0" stroke-linecap="round" stroke-linejoin="round"/>
<path d="M874.2 215.9 L870.3 222.5" fill="none" stroke="#ff0000" stroke-width="9.833333333333334" stroke-linecap="round" stroke-linejoin="round"/>
<path d="M870.3 222.5 L866.4 229.0" fill="none" stroke="#ff0000" stroke-width="9.5" stroke-linecap="round" stroke-linejoin="round"/>
<path d="M866.4 229.0 L862.5 235.6" fill="none" stroke="#ff0000" stroke-width="9.166666666666666" stroke-linecap="round" stroke-linejoin="round"/>
<path d="M862.5 235.6 L858.5 242.2" fill="none" stroke="#ff0000" stroke-width="8.833333333333334" stroke-linecap="round" stroke-linejoin="round"/>
<path d="M858.5 242.2 L854.6 248.8" fill="none" stroke="#ff0000" stroke-width="8.5" stroke-linecap="round" stroke-linejoin="round"/>
<path d="M854.6 248.8 L850.7 255.3" fill="none" stroke="#ff0000" stroke-width="8.166666666666666" stroke-linecap="round" stroke-linejoin="round"/>
<path d="M850.7 255.3 L844.8 261.9" fill="none" stroke="#ff0000" stroke-width="7.75" stroke-linecap="round" stroke-linejoin="round"/>
<path d="M844.8 261.9 L838.8 268.5" fill="none" stroke="#ff0000" stroke-width="7.25" stroke-linecap="round" stroke-linejoin="round"/>
<path d="M838.8 268.5 L832.9 275.1" fill="none" stroke="#ff0000" stroke-width="6.75" stroke-linecap="round" stroke-linejoin="round"/>
<path d="M832.9 275.1 L827.0 281.6" fill="none" stroke="#ff0000" stroke-width="6.25" stroke-linecap="round" stroke-linejoin="round"/>
<path d="M827.0 281.6 L821.0 288.2" fill="none" stroke="#ff0000" stroke-width="5.75" stroke-linecap="round" stroke-linejoin="round"/>
<path d="M821.0 288.2 L815.1 294.8" fill="none" stroke="#ff0000" stroke-width="5.25" stroke-linecap="round" stroke-linejoin="round"/>
<path d="M815.1 294.8 L809.8 301.4" fill="none" stroke="#ff0000" stroke-width="4.933333333333334" stroke-linecap="round" stroke-linejoin="round"/>
<path d="M809.8 301.4 L804.4 307.9" fill="none" stroke="#ff0000" stroke-width="4.8" stroke-linecap="round" stroke-linejoin="round"/>
<path d="M804.4 307.9 L799.0 314.5" fill="none" stroke="#ff0000" stroke-width="4.666666666666667" stroke-linecap="round" stroke-linejoin="round"/>
<path d="M799.0 314.5 L793.7 321.1" fill="none" stroke="#ff0000" stroke-width="4.533333333333333" stroke-linecap="round" stroke-linejoin="round"/>
<path d="M793.7 321.1 L788.4 327.6" fill="none" stroke="#ff0000" stroke-width="4.4" stroke-linecap="round" stroke-linejoin="round"/>
<path d="M788.4 327.6 L783.0 334.2" fill="none" stroke="#ff0000" stroke-width="4.266666666666667" stroke-linecap="round" stroke-linejoin="round"/>
<path d="M783.0 334.2 L772.8 347.4" fill="none" stroke="#ff0000" stroke-width="4.683333333333334" stroke-linecap="round" stroke-linejoin="round"/>
<path d="M772.8 347.4 L762.6 360.5" fill="none" stroke="#ff0000" stroke-width="5.65" stroke-linecap="round" stroke-linejoin="round"/>
<path d="M762.6 360.5 L752.4 373.7" fill="none" stroke="#ff0000" stroke-width="6.616666666666667" stroke-linecap="round" stroke-linejoin="round"/>
<path d="M752.4 373.7 L742.1 386.8" fill="none" stroke="#ff0000" stroke-width="7.583333333333333" stroke-linecap="round" stroke-linejoin="round"/>
<path d="M742.1 386.8 L731.9 400.0" fill="none" stroke="#ff0000" stroke-width="8.55" stroke-linecap="round" stroke-linejoin="round"/>
<path d="M731.9 400.0 L721.7 413.1" fill="none" stroke="#ff0000" stroke-width="9.516666666666667" stroke-linecap="round" stroke-linejoin="round"/>
<path d="M721.7 413.1 L714.0 426.2" fill="none" stroke="#ff0000" stroke-width="10.041666666666666" stroke-linecap="round" stroke-linejoin="round"/>
<path d="M714.0 426.2 L706.4 439.4" fill="none" stroke="#ff0000" stroke-width="10.125" stroke-linecap="round" stroke-linejoin="round"/>
<path d="M706.4 439.4 L698.7 452.5" fill="none" stroke="#ff0000" stroke-width="10.208333333333334" stroke-linecap="round" stroke-linejoin="round"/>
<path d="M698.7 452.5 L691.0 465.7" fill="none" stroke="#ff0000" stroke-width="10.291666666666666" stroke-linecap="round" stroke-linejoin="round"/>
<path d="M691.0 465.7 L683.4 478.8" fill="none" stroke="#ff0000" stroke-width="10.375" stroke-linecap="round" stroke-linejoin="round"/>
<path d="M683.4 478.8 L675.7 492.0" fill="none" stroke="#ff0000" stroke-width="10.458333333333334" stroke-linecap="round" stroke-linejoin="round"/>
<path d="M675.7 492.0 L669.8 505.1" fill="none" stroke="#ff0000" stroke-width="10.25" stroke-linecap="round" stroke-linejoin="round"/>
<path d="M669.8 505.1 L663.8 518.3" fill="none" stroke="#ff0000" stroke-width="9.75" stroke-linecap="round" stroke-linejoin="round"/>
<path d="M663.8 518.3 L657.9 531.4" fill="none" stroke="#ff0000" stroke-width="9.25" stroke-linecap="round" stroke-linejoin="round"/>
<path d="M657.9 531.4 L652.0 544.6" fill="none" stroke="#ff0000" stroke-width="8.75" stroke-linecap="round" stroke-linejoin="round"/>
<path d="M652.0 544.6 L646.0 557.7" fill="none" stroke="#ff0000" stroke-width="8.25" stroke-linecap="round" stroke-linejoin="round"/>
<path d="M646.0 557.7 L640.1 570.9" fill="none" stroke="#ff0000" stroke-width="7.75" stroke-linecap="round" stroke-linejoin="round"/>
<path d="M640.1 570.9 L637.9 584.0" fill="none" stroke="#ff0000" stroke-width="7.25" stroke-linecap="round" stroke-linejoin="round"/>
<path d="M637.9 584.0 L635.6 597.2" fill="none" stroke="#ff0000" stroke-width="6.75" stroke-linecap="round" stroke-linejoin="round"/>
<path d="M635.6 597.2 L633.4 610.3" fill="none" stroke="#ff0000" stroke-width="6.25" stroke-linecap="round" stroke-linejoin="round"/>
<path d="M633.4 610.3 L631.2 623.4" fill="none" stroke="#ff0000" stroke-width="5.75" stroke-linecap="round" stroke-linejoin="round"/>
<path d="M631.2 623.4 L628.9 636.6" fill="none" stroke="#ff0000" stroke-width="5.25" stroke-linecap="round" stroke-linejoin="round"/>
<path d="M628.9 636.6 L626.7 649.7" fill="none" stroke="#ff0000" stroke-width="4.75" stroke-linecap="round" stroke-linejoin="round"/>
<path d="M626.7 649.7 L626.4 662.9" fill="none" stroke="#ff0000" stroke-width="4.375" stroke-linecap="round" stroke-linejoin="round"/>
<path d="M626.4 662.9 L626.2 676.0" fill="none" stroke="#ff0000" stroke-width="4.125" stroke-linecap="round" stroke-linejoin="round"/>
<path d="M626.2 676.0 L625.9 689.2" fill="none" stroke="#ff0000" stroke-width="3.875" stroke-linecap="round" stroke-linejoin="round"/>
<path d="M625.9 689.2 L625.6 702.3" fill="none" stroke="#ff0000" stroke-width="3.625" stroke-linecap="round" stroke-linejoin="round"/>
<path d="M625.6 702.3 L625.4 715.5" fill="none" stroke="#ff0000" stroke-width="3.375" stroke-linecap="round" stroke-linejoin="round"/>
<path d="M625.4 715.5 L625.1 728.6" fill="none" stroke="#ff0000" stroke-width="3.125" stroke-linecap="round" stroke-linejoin="round"/>
<path d="M625.1 728.6 L628.9 807.5" fill="none" stroke="#ff0000" stroke-width="3.0" stroke-linecap="round" stroke-linejoin="round"/>
<g fill="#ff0000"><circle cx="826.4" cy="18.7" r="6"/><circle cx="826.4" cy="20.3" r="6"/><circle cx="826.4" cy="21.9" r="6"/><circle cx="826.4" cy="23.4" r="6"/><circle cx="826.4" cy="25.0" r="6"/><circle cx="826.4" cy="26.6" r="6"/><circle cx="826.2" cy="28.2" r="6"/><circle cx="826.0" cy="30.5" r="6"/><circle cx="825.5" cy="34.5" r="6"/><circle cx="825.0" cy="38.4" r="6"/><circle cx="824.8" cy="42.4" r="6"/><circle cx="825.5" cy="46.3" r="6"/><circle cx="827.0" cy="50.3" r="6"/><circle cx="829.5" cy="54.2" r="6"/><circle cx="832.0" cy="58.1" r="6"/><circle cx="835.0" cy="66.0" r="6"/><circle cx="837.0" cy="73.9" r="6"/><circle cx="840.0" cy="81.8" r="6"/><circle cx="845.0" cy="89.7" r="6"/><circle cx="848.7" cy="97.6" r="6"/><circle cx="863.5" cy="117.3" r="6"/><circle cx="888.1" cy="137.0" r="6"/><circle cx="898.8" cy="176.5" r="6"/><circle cx="874.2" cy="215.9" r="6"/><circle cx="850.7" cy="255.3" r="6"/><circle cx="815.1" cy="294.8" r="6"/><circle cx="783.0" cy="334.2" r="6"/><circle cx="721.7" cy="413.1" r="6"/><circle cx="675.7" cy="492.0" r="6"/><circle cx="640.1" cy="570.9" r="6"/><circle cx="626.7" cy="649.7" r="6"/><circle cx="625.1" cy="728.6" r="6"/><circle cx="628.9" cy="807.5" r="6"/></g>
<path d="M796.9 18.7 L796.9 20.3 L796.9 21.9 L796.9 23.4 L796.9 25.0 L796.9 26.6 L797.0 28.2 L797.3 30.5 L798.0 34.5 L800.0 38.4 L803.0 42.4 L806.0 46.3 L808.0 50.3 L811.0 54.2 L813.0 58.1 L817.8 66.0 L821.6 73.9 L826.4 81.8 L833.5 89.7 L844.4 97.6 L872.3 117.3 L885.5 137.0 L877.4 176.5 L856.6 215.9 L833.3 255.3 L800.6 294.8 L767.7 334.2 L705.1 413.1 L645.5 492.0 L625.5 570.9 L621.4 649.7 L620.3 728.6 L625.5 807.5" fill="none" stroke="#008000" stroke-width="2.6" stroke-linecap="round" stroke-linejoin="round"/>
<g fill="#008000"><circle cx="796.9" cy="18.7" r="6"/><circle cx="796.9" cy="20.3" r="6"/><circle cx="796.9" cy="21.9" r="6"/><circle cx="796.9" cy="23.4" r="6"/><circle cx="796.9" cy="25.0" r="6"/><circle cx="796.9" cy="26.6" r="6"/><circle cx="797.0" cy="28.2" r="6"/><circle cx="797.3" cy="30.5" r="6"/><circle cx="798.0" cy="34.5" r="6"/><circle cx="800.0" cy="38.4" r="6"/><circle cx="803.0" cy="42.4" r="6"/><circle cx="806.0" cy="46.3" r="6"/><circle cx="808.0" cy="50.3" r="6"/><circle cx="811.0" cy="54.2" r="6"/><circle cx="813.0" cy="58.1" r="6"/><circle cx="817.8" cy="66.0" r="6"/><circle cx="821.6" cy="73.9" r="6"/><circle cx="826.4" cy="81.8" r="6"/><circle cx="833.5" cy="89.7" r="6"/><circle cx="844.4" cy="97.6" r="6"/><circle cx="872.3" cy="117.3" r="6"/><circle cx="885.5" cy="137.0" r="6"/><circle cx="877.4" cy="176.5" r="6"/><circle cx="856.6" cy="215.9" r="6"/><circle cx="833.3" cy="255.3" r="6"/><circle cx="800.6" cy="294.8" r="6"/><circle cx="767.7" cy="334.2" r="6"/><circle cx="705.1" cy="413.1" r="6"/><circle cx="645.5" cy="492.0" r="6"/><circle cx="625.5" cy="570.9" r="6"/><circle cx="621.4" cy="649.7" r="6"/><circle cx="620.3" cy="728.6" r="6"/><circle cx="625.5" cy="807.5" r="6"/></g>
<path d="M856.4 19.1 L856.4 19.9 L856.4 20.8 L856.4 21.7 L856.4 22.7 L856.4 23.8 L856.4 25.0 L856.4 26.2 L856.4 27.7 L856.0 29.3 L855.8 31.2 L855.5 33.3 L855.0 35.7 L853.5 38.6 L851.0 41.9 L848.0 45.9 L845.5 50.5 L842.5 56.1 L841.4 62.7 L841.4 70.6 L845.7 80.1 L853.3 91.5 L864.5 105.3 L888.4 121.8 L912.8 141.6 L920.3 165.5 L912.8 194.2 L883.3 228.6 L844.7 269.6 L800.6 318.6 L725.5 376.8 L679.7 445.5 L645.5 526.3 L621.6 620.8 L622.2 730.5" fill="none" stroke="#ff00ff" stroke-width="2.6" stroke-linecap="round" stroke-linejoin="round"/>
<g fill="#ff00ff"><circle cx="856.4" cy="19.1" r="6"/><circle cx="856.4" cy="19.9" r="6"/><circle cx="856.4" cy="20.8" r="6"/><circle cx="856.4" cy="21.7" r="6"/><circle cx="856.4" cy="22.7" r="6"/><circle cx="856.4" cy="23.8" r="6"/><circle cx="856.4" cy="25.0" r="6"/><circle cx="856.4" cy="26.2" r="6"/><circle cx="856.4" cy="27.7" r="6"/><circle cx="856.0" cy="29.3" r="6"/><circle cx="855.8" cy="31.2" r="6"/><circle cx="855.5" cy="33.3" r="6"/><circle cx="855.0" cy="35.7" r="6"/><circle cx="853.5" cy="38.6" r="6"/><circle cx="851.0" cy="41.9" r="6"/><circle cx="848.0" cy="45.9" r="6"/><circle cx="845.5" cy="50.5" r="6"/><circle cx="842.5" cy="56.1" r="6"/><circle cx="841.4" cy="62.7" r="6"/><circle cx="841.4" cy="70.6" r="6"/><circle cx="845.7" cy="80.1" r="6"/><circle cx="853.3" cy="91.5" r="6"/><circle cx="864.5" cy="105.3" r="6"/><circle cx="888.4" cy="121.8" r="6"/><circle cx="912.8" cy="141.6" r="6"/><circle cx="920.3" cy="165.5" r="6"/><circle cx="912.8" cy="194.2" r="6"/><circle cx="883.3" cy="228.6" r="6"/><circle cx="844.7" cy="269.6" r="6"/><circle cx="800.6" cy="318.6" r="6"/><circle cx="725.5" cy="376.8" r="6"/><circle cx="679.7" cy="445.5" r="6"/><circle cx="645.5" cy="526.3" r="6"/><circle cx="621.6" cy="620.8" r="6"/><circle cx="622.2" cy="730.5" r="6"/></g>
</g>
<rect x="583.5" y="19.5" width="394.0" height="795.0" fill="none" stroke="#000" stroke-width="1.4"/>
<g stroke="#000" stroke-width="1.4">
<path d="M640.5 814.5v6.3"/>
<path d="M715.5 814.5v6.3"/>
<path d="M790.5 814.5v6.3"/>
<path d="M865.5 814.5v6.3"/>
<path d="M940.5 814.5v6.3"/>
<path d="M583.5 19.5h-6.3"/>
<path d="M583.5 97.5h-6.3"/>
<path d="M583.5 176.5h-6.3"/>
<path d="M583.5 255.5h-6.3"/>
<path d="M583.5 334.5h-6.3"/>
<path d="M583.5 413.5h-6.3"/>
<path d="M583.5 491.5h-6.3"/>
<path d="M583.5 570.5h-6.3"/>
<path d="M583.5 649.5h-6.3"/>
<path d="M583.5 728.5h-6.3"/>
<path d="M583.5 807.5h-6.3"/>
</g>
<g font-size="17.35" text-anchor="middle">
<text x="639.7" y="841.7">35.0</text>
<text x="714.7" y="841.7">35.5</text>
<text x="789.7" y="841.7">36.0</text>
<text x="864.7" y="841.7">36.5</text>
<text x="939.7" y="841.7">37.0</text>
</g>
<g stroke="#b0b0b0" stroke-width="1" stroke-opacity="0.9" stroke-dasharray="3.19 1.38" fill="none">
<path d="M1070.5 814.5V19.5"/>
<path d="M1143.5 814.5V19.5"/>
<path d="M1216.5 814.5V19.5"/>
<path d="M1288.5 814.5V19.5"/>
<path d="M1361.5 814.5V19.5"/>
<path d="M1434.5 814.5V19.5"/>
<path d="M1067.5 19.5H1461.5"/>
<path d="M1067.5 97.5H1461.5"/>
<path d="M1067.5 176.5H1461.5"/>
<path d="M1067.5 255.5H1461.5"/>
<path d="M1067.5 334.5H1461.5"/>
<path d="M1067.5 413.5H1461.5"/>
<path d="M1067.5 491.5H1461.5"/>
<path d="M1067.5 570.5H1461.5"/>
<path d="M1067.5 649.5H1461.5"/>
<path d="M1067.5 728.5H1461.5"/>
<path d="M1067.5 807.5H1461.5"/>
</g>
<g clip-path="url(#c2)">
<path d="M1095.2 19.0 1096.2 21.7 1097.5 24.3 1096.8 27.0 1097.6 29.7 1099.1 32.3 1098.9 35.0 1100.1 37.8 1101.5 40.5 1101.6 43.2 1102.9 46.0 1104.1 48.7 1104.4 51.4 1106.4 54.1 1107.9 56.8 1109.7 58.5 1110.7 60.3 1109.7 62.0 1111.9 64.2 1113.5 66.3 1115.7 68.5 1116.4 70.7 1118.1 73.0 1121.0 75.4 1121.3 77.7 1121.1 80.0 1123.3 82.4 1124.3 84.7 1125.7 86.8 1126.6 89.0 1128.0 91.1 1132.0 93.2 1131.2 95.4 1130.3 97.5 1131.1 100.7 1135.1 102.8 1139.0 105.0 1141.3 106.6 1142.1 108.2 1145.2 109.8 1148.0 111.4 1149.5 112.6 1152.1 113.7 1152.0 114.8 1154.5 116.0 1155.8 117.5 1159.5 119.0 1159.4 120.5 1163.9 122.0 1165.9 123.8 1165.7 125.6 1166.9 127.4 1170.0 129.2 1170.0 131.0 1173.2 132.8 1172.5 134.6 1175.6 136.4 1178.2 138.2 1179.3 139.9 1180.6 141.7 1182.4 143.5 1184.9 145.3 1185.8 147.1 1186.8 148.8 1189.5 150.6 1191.5 152.4 1193.2 154.2 1194.9 155.7 1198.6 157.3 1200.9 158.8 1203.8 160.4 1205.8 161.9 1207.9 163.5 1210.3 165.0 1212.5 166.5 1215.7 168.1 1215.2 169.6 1217.6 171.1 1219.5 172.6 1221.8 174.2 1222.5 175.7 1224.0 177.5 1226.2 179.3 1227.9 181.1 1227.8 182.8 1231.2 184.6 1234.3 186.4 1237.6 187.8 1239.1 189.3 1240.4 190.7 1242.6 192.5 1243.3 194.3 1243.7 196.1 1244.9 197.8 1246.9 199.6 1249.6 201.4 1251.6 203.5 1251.2 205.7 1252.2 207.8 1255.4 210.0 1256.7 212.1 1258.7 214.2 1259.7 216.4 1260.2 218.5 1262.3 220.7 1264.7 222.8 1264.9 224.9 1264.8 227.1 1267.0 229.2 1268.8 231.4 1268.7 233.5 1268.6 235.6 1272.0 237.8 1273.3 239.9 1273.2 242.1 1274.5 244.2 1275.2 246.9 1276.3 249.6 1277.0 252.3 1277.8 255.0 1278.1 257.7 1278.8 260.4 1278.7 263.0 1280.8 265.7 1281.4 268.4 1282.6 271.0 1283.7 273.7 1284.7 276.4 1286.1 278.2 1286.5 280.0 1287.9 282.3 1288.8 284.6 1289.8 286.9 1291.1 289.2 1292.6 291.5 1293.1 293.8 1294.0 296.2 1295.0 298.5" fill="none" stroke="#00ffff" stroke-width="12.2" stroke-linecap="round" stroke-linejoin="round"/>
<path d="M1096.6 19.0 1097.4 21.7 1097.1 24.3 1097.9 27.0 1097.0 29.7 1099.1 32.3 1100.4 35.0 1101.8 37.8 1101.8 40.5 1101.5 43.2 1103.5 46.0 1103.8 48.7 1104.4 51.4 1106.9 54.1 1107.2 56.8 1109.4 58.5 1110.8 60.3 1111.4 62.0 1112.6 64.2 1112.9 66.3 1115.8 68.5 1118.8 70.7 1119.0 73.0 1117.8 75.4 1119.9 77.7 1121.0 80.0 1123.4 82.4 1124.0 84.7 1130.0 86.8 1129.0 89.0 1130.5 91.1 1131.8 93.2 1132.3 95.4 1134.4 97.5 1135.3 100.7 1135.8 102.8 1138.0 105.0 1139.0 106.6 1142.9 108.2 1144.9 109.8 1145.4 111.4 1148.9 112.6 1151.5 113.7 1153.3 114.8 1155.3 116.0 1156.9 117.5 1158.9 119.0 1159.4 120.5 1161.0 122.0 1162.8 123.8 1161.3 125.6 1165.4 127.4 1168.4 129.2 1170.9 131.0 1174.0 132.8 1173.8 134.6 1172.8 136.4 1175.2 138.2 1177.7 139.9 1179.7 141.7 1181.4 143.5 1184.3 145.3 1185.2 147.1 1188.4 148.8 1187.6 150.6 1189.9 152.4 1195.0 154.2 1196.6 155.7 1198.4 157.3 1198.5 158.8 1203.0 160.4 1203.3 161.9 1205.6 163.5 1208.3 165.0 1209.8 166.5 1210.7 168.1 1213.1 169.6 1217.5 171.1 1217.4 172.6 1219.8 174.2 1220.0 175.7 1223.7 177.5 1223.5 179.3 1228.0 181.1 1229.1 182.8 1230.9 184.6 1233.9 186.4 1235.7 187.8 1239.3 189.3 1240.2 190.7 1242.5 192.5 1243.7 194.3 1244.6 196.1 1246.7 197.8 1248.1 199.6 1250.4 201.4 1249.2 203.5 1251.8 205.7 1254.0 207.8 1253.6 210.0 1256.0 212.1 1255.2 214.2 1258.6 216.4 1259.8 218.5 1261.7 220.7 1263.6 222.8 1262.8 224.9 1266.3 227.1 1267.5 229.2 1269.2 231.4 1272.0 233.5 1272.1 235.6 1272.2 237.8 1272.5 239.9 1273.7 242.1 1274.8 244.2 1275.8 246.9 1276.1 249.6 1276.3 252.3 1277.4 255.0 1278.2 257.7 1279.0 260.4 1280.0 263.0 1280.7 265.7 1281.2 268.4 1281.8 271.0 1283.2 273.7 1284.4 276.4 1286.6 278.2 1286.6 280.0 1288.7 282.3 1288.8 284.6 1290.0 286.9 1290.2 289.2 1292.2 291.5 1292.9 293.8 1294.7 296.2 1295.8 298.5" fill="none" stroke="#00ffff" stroke-width="12.2" stroke-linecap="round" stroke-linejoin="round"/>
<path d="M1096.1 19.0 1096.0 21.7 1096.4 24.3 1097.6 27.0 1098.4 29.7 1100.1 32.3 1100.1 35.0 1100.5 37.8 1101.8 40.5 1101.7 43.2 1103.5 46.0 1104.4 48.7 1105.3 51.4 1106.7 54.1 1107.8 56.8 1108.3 58.5 1110.6 60.3 1110.0 62.0 1111.3 64.2 1113.4 66.3 1115.8 68.5 1114.9 70.7 1118.6 73.0 1119.2 75.4 1121.6 77.7 1121.4 80.0 1122.5 82.4 1124.7 84.7 1128.2 86.8 1129.7 89.0 1130.9 91.1 1134.5 93.2 1132.5 95.4 1133.1 97.5 1136.0 100.7 1136.7 102.8 1139.2 105.0 1141.5 106.6 1145.0 108.2 1146.1 109.8 1147.4 111.4 1150.6 112.6 1151.5 113.7 1152.9 114.8 1156.3 116.0 1158.9 117.5 1160.3 119.0 1162.6 120.5 1161.7 122.0 1164.1 123.8 1164.3 125.6 1168.4 127.4 1168.6 129.2 1170.3 131.0 1170.6 132.8 1175.3 134.6 1176.1 136.4 1175.4 138.2 1177.0 139.9 1178.6 141.7 1182.3 143.5 1184.6 145.3 1185.6 147.1 1188.6 148.8 1191.5 150.6 1193.2 152.4 1194.9 154.2 1194.8 155.7 1196.4 157.3 1203.0 158.8 1202.0 160.4 1203.7 161.9 1207.7 163.5 1209.9 165.0 1210.3 166.5 1213.3 168.1 1213.9 169.6 1216.2 171.1 1221.0 172.6 1222.2 174.2 1222.2 175.7 1225.2 177.5 1227.0 179.3 1229.9 181.1 1228.6 182.8 1231.0 184.6 1233.2 186.4 1234.4 187.8 1237.7 189.3 1240.4 190.7 1242.2 192.5 1242.8 194.3 1245.1 196.1 1244.8 197.8 1247.3 199.6 1249.3 201.4 1253.3 203.5 1251.7 205.7 1252.5 207.8 1253.5 210.0 1255.5 212.1 1255.4 214.2 1258.1 216.4 1261.6 218.5 1262.1 220.7 1260.5 222.8 1263.2 224.9 1266.9 227.1 1268.7 229.2 1268.9 231.4 1269.7 233.5 1270.7 235.6 1272.3 237.8 1272.1 239.9 1272.9 242.1 1274.4 244.2 1274.6 246.9 1275.9 249.6 1276.4 252.3 1276.9 255.0 1278.7 257.7 1278.8 260.4 1279.8 263.0 1280.9 265.7 1282.9 268.4 1282.9 271.0 1284.0 273.7 1285.0 276.4 1285.1 278.2 1285.5 280.0 1287.3 282.3 1288.5 284.6 1290.8 286.9 1291.3 289.2 1291.5 291.5 1292.3 293.8 1294.4 296.2 1294.6 298.5" fill="none" stroke="#00ffff" stroke-width="12.2" stroke-linecap="round" stroke-linejoin="round"/>
<path d="M1149.0 118.0 L1152.0 125.3 L1160.0 132.0 L1166.0 137.0 L1172.0 143.0" fill="none" stroke="#00ffff" stroke-width="9" stroke-linecap="round" stroke-linejoin="round"/>
<path d="M1155.0 108.0 L1162.5 116.8 L1172.0 124.0" fill="none" stroke="#00ffff" stroke-width="9" stroke-linecap="round" stroke-linejoin="round"/>
<path d="M1096.9 19.0 1096.9 21.7 1097.5 24.3 1097.2 27.0 1098.6 29.7 1098.7 32.3 1098.3 35.0 1100.7 37.8 1103.0 40.5 1103.8 43.2 1103.2 46.0 1103.3 48.7 1105.8 51.4 1106.4 54.1 1107.1 56.8 1109.3 58.5 1111.0 60.3 1111.0 62.0 1112.0 64.2 1113.2 66.3 1113.5 68.5 1116.0 70.7 1117.7 73.0 1119.6 75.4 1120.3 77.7 1122.4 80.0 1123.7 82.4 1124.0 84.7 1126.8 86.8 1128.0 89.0 1129.9 91.1 1131.0 93.2 1130.7 95.4 1132.8 97.5 1135.0 100.7 1136.9 102.8 1137.8 105.0 1141.7 106.6 1142.2 108.2 1143.6 109.8 1147.0 111.4 1148.7 112.6 1150.5 113.7 1152.0 114.8 1155.3 116.0 1155.8 117.5 1158.7 119.0 1158.2 120.5 1161.7 122.0 1164.1 123.8 1164.9 125.6 1167.0 127.4 1169.7 129.2 1170.0 131.0 1172.5 132.8 1173.8 134.6 1173.9 136.4 1176.2 138.2 1177.9 139.9 1181.3 141.7 1181.4 143.5 1183.2 145.3 1185.6 147.1 1188.9 148.8 1189.2 150.6 1192.6 152.4 1194.6 154.2 1197.7 155.7 1197.6 157.3 1200.9 158.8 1202.5 160.4 1205.2 161.9 1206.7 163.5 1208.1 165.0 1209.7 166.5 1213.9 168.1 1213.8 169.6 1216.8 171.1 1217.4 172.6 1221.4 174.2 1223.9 175.7 1224.5 177.5 1225.7 179.3 1228.6 181.1 1228.1 182.8 1230.3 184.6 1231.5 186.4 1234.5 187.8 1238.2 189.3 1240.8 190.7 1241.4 192.5 1244.1 194.3 1245.1 196.1 1245.5 197.8 1246.5 199.6 1248.4 201.4 1250.1 203.5 1250.3 205.7 1253.2 207.8 1254.6 210.0 1257.5 212.1 1258.7 214.2 1259.2 216.4 1259.0 218.5 1263.1 220.7 1265.0 222.8 1265.0 224.9 1265.6 227.1 1266.4 229.2 1266.9 231.4 1268.4 233.5 1271.6 235.6 1270.7 237.8 1272.0 239.9 1272.5 242.1 1273.8 244.2 1275.6 246.9 1275.1 249.6 1276.3 252.3 1278.1 255.0 1278.2 257.7 1278.3 260.4 1280.1 263.0 1280.1 265.7 1282.5 268.4 1283.7 271.0 1283.6 273.7 1284.6 276.4 1287.1 278.2 1284.4 280.0 1287.2 282.3 1288.0 284.6 1290.5 286.9 1290.9 289.2 1291.8 291.5 1293.0 293.8 1295.2 296.2 1296.4 298.5 1296.5 300.8 1297.5 303.1 1298.6 305.4 1299.2 307.7 1300.5 310.0 1301.3 312.5 1301.8 315.0 1302.2 317.5 1303.1 320.0 1303.7 322.5 1304.3 325.0 1305.6 327.5 1306.3 330.0 1306.9 332.5 1308.3 335.0 1308.7 337.5 1309.7 340.0 1310.5 342.5 1311.1 345.0 1311.7 347.5 1312.6 350.0 1312.9 352.5 1314.0 355.0 1314.7 357.5 1315.6 360.0 1316.7 362.5 1317.9 365.0 1318.2 367.5 1319.1 370.0 1320.9 372.5 1321.2 375.0 1321.6 377.5 1322.6 380.0 1323.8 382.5 1324.4 385.0 1325.3 387.5 1326.1 390.0 1327.3 392.5 1328.3 395.0 1329.1 397.5 1329.9 400.0 1330.6 402.5 1331.5 405.0 1331.9 407.5 1332.6 410.0 1334.7 412.5 1335.0 415.0 1335.6 417.5 1336.9 420.0 1337.7 422.5 1339.0 425.0 1339.2 427.5 1340.3 430.0 1341.1 432.5 1341.8 435.0 1342.3 437.5 1343.6 440.0 1344.3 442.5 1344.8 445.0 1345.2 447.5 1345.9 450.0 1346.2 452.5 1347.4 455.0 1348.2 457.5 1349.2 460.0 1349.8 462.5 1349.7 465.0 1350.5 467.5 1351.6 470.0 1352.4 472.5 1353.4 475.0 1353.9 477.5 1354.5 480.0 1355.3 482.5 1356.5 485.0 1356.9 487.5 1357.7 490.0 1358.3 492.5 1359.1 495.0 1359.6 497.5 1360.2 500.0 1360.9 502.5 1361.1 505.0 1361.8 507.5 1362.7 510.0 1363.4 512.5 1364.4 515.0 1364.6 517.5 1365.0 520.0 1365.8 522.5 1366.5 525.0 1367.2 527.5 1367.6 530.0 1368.0 532.5 1368.5 535.0 1369.2 537.5 1369.9 540.0 1370.5 542.5 1371.3 545.0 1372.5 547.5 1372.9 550.0 1373.5 552.5 1374.0 555.0 1374.6 557.5 1375.5 560.0 1376.3 562.5 1377.0 565.0 1378.0 567.5 1378.6 570.0 1379.3 572.5 1379.8 575.0 1380.5 577.5 1381.1 580.0 1382.0 582.5 1382.6 585.0 1382.9 587.5 1383.4 590.0 1384.6 592.5 1385.4 595.0 1386.3 597.5 1386.3 600.0 1387.3 602.5 1387.6 605.0 1388.7 607.5 1389.5 610.0 1389.9 612.5 1390.3 615.0 1391.1 617.5 1391.7 620.0 1392.9 622.5 1393.4 625.0 1394.2 627.5 1394.5 630.0 1395.6 632.5 1396.3 635.0 1397.1 637.5 1398.0 640.0 1398.7 642.5 1399.4 645.0 1399.8 647.5 1400.9 650.0 1401.7 652.5 1401.7 655.0 1402.7 657.5 1403.5 660.0 1404.0 662.5 1405.0 665.0 1405.8 667.5 1406.3 670.0 1407.4 672.5 1407.8 675.0 1409.3 677.5 1410.1 680.0 1410.7 682.5 1411.6 685.0 1412.5 687.5 1412.6 690.0 1413.4 692.5 1414.2 695.0 1415.2 697.5 1416.4 700.0 1416.9 702.5 1417.2 705.0 1417.8 707.5 1418.4 710.0 1419.6 712.5 1419.7 715.0 1420.6 717.5 1421.4 720.0 1422.1 722.5 1423.1 725.0 1423.8 727.5 1424.3 730.0 1424.2 732.5 1425.2 735.0 1426.0 737.5 1426.9 740.0 1427.1 742.5 1427.8 745.0 1428.9 747.5 1429.0 750.0 1429.6 752.5 1430.6 755.0 1431.0 757.5 1431.4 760.0 1432.3 762.5 1433.0 764.9 1433.0 767.4 1433.6 769.8 1434.6 772.3 1434.9 774.8 1435.5 777.2 1436.2 779.7 1436.6 782.2 1437.1 784.6 1437.8 787.1 1437.6 789.5 1438.6 792.0 1438.6 794.8 1439.2 797.5 1439.7 800.2 1440.8 803.0" fill="none" stroke="#0000ff" stroke-width="12.5" stroke-linecap="round" stroke-linejoin="round"/>
<path d="M1099.0 18.7 L1099.3 20.3 L1099.8 21.9 L1100.4 23.4 L1101.0 25.0 L1102.0 26.6 L1103.0 28.2 L1104.5 30.5 L1107.0 34.5 L1109.5 38.4 L1112.0 42.4 L1114.0 46.3 L1116.5 50.3 L1118.5 54.2 L1120.5 58.1 L1125.0 66.0 L1129.0 73.9 L1132.8 81.8 L1135.0 89.7 L1136.5 97.6 L1154.1 117.3 L1177.1 137.0 L1226.9 176.5 L1254.9 215.9 L1274.2 255.3 L1293.7 294.8 L1308.2 334.2 L1334.2 413.1 L1356.6 492.0 L1379.1 570.9 L1401.2 649.7 L1422.6 728.6 L1443.5 807.5" fill="none" stroke="#ff0000" stroke-width="2.6" stroke-linecap="round" stroke-linejoin="round"/>
<g fill="#ff0000"><circle cx="1099.0" cy="18.7" r="6"/><circle cx="1099.3" cy="20.3" r="6"/><circle cx="1099.8" cy="21.9" r="6"/><circle cx="1100.4" cy="23.4" r="6"/><circle cx="1101.0" cy="25.0" r="6"/><circle cx="1102.0" cy="26.6" r="6"/><circle cx="1103.0" cy="28.2" r="6"/><circle cx="1104.5" cy="30.5" r="6"/><circle cx="1107.0" cy="34.5" r="6"/><circle cx="1109.5" cy="38.4" r="6"/><circle cx="1112.0" cy="42.4" r="6"/><circle cx="1114.0" cy="46.3" r="6"/><circle cx="1116.5" cy="50.3" r="6"/><circle cx="1118.5" cy="54.2" r="6"/><circle cx="1120.5" cy="58.1" r="6"/><circle cx="1125.0" cy="66.0" r="6"/><circle cx="1129.0" cy="73.9" r="6"/><circle cx="1132.8" cy="81.8" r="6"/><circle cx="1135.0" cy="89.7" r="6"/><circle cx="1136.5" cy="97.6" r="6"/><circle cx="1154.1" cy="117.3" r="6"/><circle cx="1177.1" cy="137.0" r="6"/><circle cx="1226.9" cy="176.5" r="6"/><circle cx="1254.9" cy="215.9" r="6"/><circle cx="1274.2" cy="255.3" r="6"/><circle cx="1293.7" cy="294.8" r="6"/><circle cx="1308.2" cy="334.2" r="6"/><circle cx="1334.2" cy="413.1" r="6"/><circle cx="1356.6" cy="492.0" r="6"/><circle cx="1379.1" cy="570.9" r="6"/><circle cx="1401.2" cy="649.7" r="6"/><circle cx="1422.6" cy="728.6" r="6"/><circle cx="1443.5" cy="807.5" r="6"/></g>
<path d="M1085.8 18.7 L1086.5 20.3 L1087.5 21.9 L1088.5 23.4 L1089.5 25.0 L1091.0 26.6 L1092.5 28.2 L1097.0 30.5 L1103.0 34.5 L1106.5 38.4 L1109.5 42.4 L1111.8 46.3 L1114.5 50.3 L1117.0 54.2 L1119.5 58.1 L1126.4 66.0 L1133.9 73.9 L1140.8 81.8 L1148.3 89.7 L1157.5 97.6 L1182.4 117.3 L1205.5 137.0 L1238.7 176.5 L1259.2 215.9 L1275.8 255.3 L1289.6 294.8 L1303.1 334.2 L1326.2 413.1 L1351.4 492.0 L1374.6 570.9 L1397.6 649.7 L1420.7 728.6 L1441.3 807.5" fill="none" stroke="#008000" stroke-width="2.6" stroke-linecap="round" stroke-linejoin="round"/>
<g fill="#008000"><circle cx="1085.8" cy="18.7" r="6"/><circle cx="1086.5" cy="20.3" r="6"/><circle cx="1087.5" cy="21.9" r="6"/><circle cx="1088.5" cy="23.4" r="6"/><circle cx="1089.5" cy="25.0" r="6"/><circle cx="1091.0" cy="26.6" r="6"/><circle cx="1092.5" cy="28.2" r="6"/><circle cx="1097.0" cy="30.5" r="6"/><circle cx="1103.0" cy="34.5" r="6"/><circle cx="1106.5" cy="38.4" r="6"/><circle cx="1109.5" cy="42.4" r="6"/><circle cx="1111.8" cy="46.3" r="6"/><circle cx="1114.5" cy="50.3" r="6"/><circle cx="1117.0" cy="54.2" r="6"/><circle cx="1119.5" cy="58.1" r="6"/><circle cx="1126.4" cy="66.0" r="6"/><circle cx="1133.9" cy="73.9" r="6"/><circle cx="1140.8" cy="81.8" r="6"/><circle cx="1148.3" cy="89.7" r="6"/><circle cx="1157.5" cy="97.6" r="6"/><circle cx="1182.4" cy="117.3" r="6"/><circle cx="1205.5" cy="137.0" r="6"/><circle cx="1238.7" cy="176.5" r="6"/><circle cx="1259.2" cy="215.9" r="6"/><circle cx="1275.8" cy="255.3" r="6"/><circle cx="1289.6" cy="294.8" r="6"/><circle cx="1303.1" cy="334.2" r="6"/><circle cx="1326.2" cy="413.1" r="6"/><circle cx="1351.4" cy="492.0" r="6"/><circle cx="1374.6" cy="570.9" r="6"/><circle cx="1397.6" cy="649.7" r="6"/><circle cx="1420.7" cy="728.6" r="6"/><circle cx="1441.3" cy="807.5" r="6"/></g>
<path d="M1093.4 19.1 L1093.5 19.9 L1093.7 20.8 L1094.0 21.7 L1094.4 22.7 L1094.8 23.8 L1095.3 25.0 L1095.8 26.2 L1096.3 27.7 L1096.8 29.3 L1097.3 31.2 L1097.8 33.3 L1098.3 35.7 L1099.0 38.6 L1100.0 41.9 L1101.3 45.9 L1103.5 50.5 L1106.7 56.1 L1112.0 62.7 L1116.7 70.6 L1122.6 80.1 L1129.5 91.5 L1138.6 105.3 L1154.1 121.8 L1189.4 141.6 L1224.7 165.5 L1248.5 194.2 L1270.8 228.6 L1285.5 269.6 L1300.4 318.6 L1320.7 376.8 L1341.4 445.5 L1364.4 526.3 L1390.4 620.8 L1421.9 730.5" fill="none" stroke="#ff00ff" stroke-width="2.6" stroke-linecap="round" stroke-linejoin="round"/>
<g fill="#ff00ff"><circle cx="1093.4" cy="19.1" r="6"/><circle cx="1093.5" cy="19.9" r="6"/><circle cx="1093.7" cy="20.8" r="6"/><circle cx="1094.0" cy="21.7" r="6"/><circle cx="1094.4" cy="22.7" r="6"/><circle cx="1094.8" cy="23.8" r="6"/><circle cx="1095.3" cy="25.0" r="6"/><circle cx="1095.8" cy="26.2" r="6"/><circle cx="1096.3" cy="27.7" r="6"/><circle cx="1096.8" cy="29.3" r="6"/><circle cx="1097.3" cy="31.2" r="6"/><circle cx="1097.8" cy="33.3" r="6"/><circle cx="1098.3" cy="35.7" r="6"/><circle cx="1099.0" cy="38.6" r="6"/><circle cx="1100.0" cy="41.9" r="6"/><circle cx="1101.3" cy="45.9" r="6"/><circle cx="1103.5" cy="50.5" r="6"/><circle cx="1106.7" cy="56.1" r="6"/><circle cx="1112.0" cy="62.7" r="6"/><circle cx="1116.7" cy="70.6" r="6"/><circle cx="1122.6" cy="80.1" r="6"/><circle cx="1129.5" cy="91.5" r="6"/><circle cx="1138.6" cy="105.3" r="6"/><circle cx="1154.1" cy="121.8" r="6"/><circle cx="1189.4" cy="141.6" r="6"/><circle cx="1224.7" cy="165.5" r="6"/><circle cx="1248.5" cy="194.2" r="6"/><circle cx="1270.8" cy="228.6" r="6"/><circle cx="1285.5" cy="269.6" r="6"/><circle cx="1300.4" cy="318.6" r="6"/><circle cx="1320.7" cy="376.8" r="6"/><circle cx="1341.4" cy="445.5" r="6"/><circle cx="1364.4" cy="526.3" r="6"/><circle cx="1390.4" cy="620.8" r="6"/><circle cx="1421.9" cy="730.5" r="6"/></g>
</g>
<rect x="1067.5" y="19.5" width="394.0" height="795.0" fill="none" stroke="#000" stroke-width="1.4"/>
<g stroke="#000" stroke-width="1.4">
<path d="M1070.5 814.5v6.3"/>
<path d="M1143.5 814.5v6.3"/>
<path d="M1216.5 814.5v6.3"/>
<path d="M1288.5 814.5v6.3"/>
<path d="M1361.5 814.5v6.3"/>
<path d="M1434.5 814.5v6.3"/>
<path d="M1067.5 19.5h-6.3"/>
<path d="M1067.5 97.5h-6.3"/>
<path d="M1067.5 176.5h-6.3"/>
<path d="M1067.5 255.5h-6.3"/>
<path d="M1067.5 334.5h-6.3"/>
<path d="M1067.5 413.5h-6.3"/>
<path d="M1067.5 491.5h-6.3"/>
<path d="M1067.5 570.5h-6.3"/>
<path d="M1067.5 649.5h-6.3"/>
<path d="M1067.5 728.5h-6.3"/>
<path d="M1067.5 807.5h-6.3"/>
</g>
<g font-size="17.35" text-anchor="middle">
<text transform="translate(1069.3 850.3) rotate(-45)" y="6.3">1022</text>
<text transform="translate(1142.3 850.3) rotate(-45)" y="6.3">1024</text>
<text transform="translate(1215.3 850.3) rotate(-45)" y="6.3">1026</text>
<text transform="translate(1287.3 850.3) rotate(-45)" y="6.3">1028</text>
<text transform="translate(1360.3 850.3) rotate(-45)" y="6.3">1030</text>
<text transform="translate(1433.3 850.3) rotate(-45)" y="6.3">1032</text>
</g>
<g font-size="17.35" text-anchor="end">
<text x="86.3" y="27.2">0</text>
<text x="86.3" y="105.2">100</text>
<text x="86.3" y="184.2">200</text>
<text x="86.3" y="263.2">300</text>
<text x="86.3" y="342.2">400</text>
<text x="86.3" y="421.2">500</text>
<text x="86.3" y="499.2">600</text>
<text x="86.3" y="578.2">700</text>
<text x="86.3" y="657.2">800</text>
<text x="86.3" y="736.2">900</text>
<text x="86.3" y="815.2">1000</text>
</g>
<g font-size="22.7" font-weight="bold">
<text transform="translate(29.1 418.5) rotate(-90)" text-anchor="middle">Depth (m)</text>
<text x="185.6" y="871.6">Temperature (<tspan font-weight="normal" font-style="italic" font-size="15.9" dx="1" dy="-8.1">o</tspan><tspan font-weight="normal" font-style="italic" dx="0.7" dy="8.1">C</tspan><tspan dx="1">)</tspan></text>
<text x="780" y="869.5" text-anchor="middle">Salinity</text>
<text x="1263.6" y="895.9" text-anchor="middle">Density (kg m-3)</text>
</g>
<text x="238.6" y="917.6" font-size="17.35" font-style="italic" xml:space="preserve" style="white-space:pre">Ocean Heat Content (kJ/cm^2) - Glider: 173.5112,  RTOFS: 132.8331,  ESPC: 92.7101,  CMEMS: 176.2351,  NESDIS: 160.1208, </text>
<g font-size="22.57" font-weight="bold">
<text x="1512.5" y="36.7">Comparison Date: 2025-09-06</text>
<text x="1512.5" y="90.0">Glider: sg650</text>
<text x="1512.5" y="116.6">Profiles: 8</text>
<text x="1512.5" y="143.3">First: 2025-09-06 02:43:23</text>
<text x="1512.5" y="169.9">Last: 2025-09-06 20:31:33</text>
<text x="1512.5" y="196.6">Method: Nearest-Neighbor</text>
</g>
<g clip-path="url(#cm)">
<rect x="1550.8" y="260.8" width="394.6" height="311.2" fill="#97b6e1" stroke="#000" stroke-width="3"/>
<path d="M1916.6 260.7 L1911.0 265.0 L1907.6 266.7 L1905.4 269.5 L1900.9 271.2 L1897.5 272.9 L1894.1 275.1 L1891.9 277.4 L1889.7 280.2 L1887.4 283.0 L1885.7 285.8 L1884.0 288.6 L1882.9 291.4 L1882.3 294.2 L1881.2 297.6 L1880.7 301.0 L1880.1 306.6 L1880.4 309.4 L1880.7 312.2 L1881.2 316.7 L1881.8 321.2 L1882.9 325.7 L1884.0 330.2 L1886.3 335.3 L1888.5 340.3 L1890.8 344.8 L1893.0 349.3 L1894.7 352.7 L1896.4 356.1 L1898.1 361.0 L1898.1 361.0 L1899.4 366.6 L1900.7 371.7 L1902.0 376.7 L1903.7 381.2 L1905.4 385.7 L1906.5 390.2 L1907.1 394.7 L1906.7 400.3 L1906.0 406.0 L1905.2 410.5 L1904.3 415.0 L1903.1 418.9 L1902.0 421.7 L1900.3 423.7 L1898.6 425.1 L1896.4 426.4 L1894.1 427.3 L1891.9 427.6 L1889.7 427.3 L1888.3 425.6 L1887.4 424.0 L1885.7 421.1 L1884.0 418.3 L1881.8 416.1 L1879.5 413.8 L1877.3 412.2 L1875.0 410.5 L1873.9 407.1 L1872.8 403.7 L1871.1 402.0 L1869.4 400.3 L1867.7 398.1 L1866.0 395.9 L1864.4 391.9 L1862.7 388.0 L1861.0 384.6 L1859.3 381.2 L1857.3 378.4 L1855.9 375.6 L1855.1 371.7 L1854.8 367.7 L1855.9 364.4 L1857.6 361.0 L1857.6 361.0 L1858.4 357.7 L1858.7 354.9 L1857.9 352.1 L1857.1 349.3 L1854.8 347.1 L1852.6 344.8 L1850.3 343.1 L1848.1 341.4 L1845.8 338.1 L1843.6 334.7 L1840.7 331.3 L1837.9 328.0 L1835.7 325.7 L1833.4 324.0 L1831.2 323.5 L1828.9 323.5 L1826.7 324.8 L1824.4 326.8 L1822.2 329.1 L1820.0 331.3 L1817.7 332.8 L1815.5 333.6 L1813.2 333.9 L1811.0 333.6 L1808.7 332.2 L1806.5 330.2 L1804.8 327.4 L1803.1 324.8 L1800.8 323.5 L1798.6 322.3 L1795.8 321.0 L1793.0 319.9 L1789.6 319.0 L1786.2 318.5 L1782.9 318.5 L1780.0 318.7 L1771.0 321.4 L1760.3 322.5 L1749.6 323.0 L1738.9 322.5 L1733.5 321.9 L1730.3 323.6 L1728.2 326.8 L1727.1 330.0 L1728.2 334.3 L1729.8 337.5 L1731.4 340.7 L1734.1 342.8 L1737.8 342.3 L1739.4 344.4 L1736.7 347.1 L1733.5 349.3 L1730.3 348.2 L1730.9 344.4 L1728.2 341.8 L1723.9 339.6 L1719.6 342.8 L1715.3 346.0 L1710.0 346.6 L1705.2 345.5 L1701.4 347.1 L1696.1 343.9 L1693.4 340.1 L1688.0 337.5 L1683.2 337.5 L1680.0 336.4 L1688.5 335.3 L1685.7 334.8 L1682.9 334.7 L1680.1 335.4 L1677.3 335.6 L1673.4 334.7 L1669.4 333.6 L1666.0 332.4 L1662.7 331.5 L1659.3 331.1 L1655.9 331.1 L1651.4 331.7 L1646.9 332.4 L1643.6 333.2 L1640.2 334.1 L1636.8 335.4 L1633.4 336.9 L1630.1 339.8 L1626.7 342.6 L1623.3 346.2 L1620.0 349.3 L1615.5 352.2 L1611.0 354.9 L1606.5 358.0 L1602.0 361.0 L1600.8 361.0 L1596.9 363.0 L1593.0 365.5 L1590.2 368.6 L1587.3 372.2 L1585.4 376.2 L1584.0 380.1 L1583.2 384.0 L1582.9 388.0 L1583.2 391.9 L1584.0 395.9 L1585.1 400.9 L1586.2 406.0 L1586.4 409.9 L1586.2 413.8 L1585.3 417.8 L1584.0 421.7 L1582.3 425.6 L1580.6 429.6 L1579.1 434.6 L1577.8 439.7 L1576.9 445.3 L1576.1 450.9 L1575.5 458.2 L1575.0 466.0 L1574.5 466.0 L1573.9 469.5 L1573.3 473.1 L1572.5 477.2 L1572.1 481.3 L1572.7 484.8 L1573.9 488.4 L1575.4 493.1 L1577.4 497.8 L1579.6 501.9 L1581.6 506.0 L1583.1 510.8 L1584.5 515.5 L1586.3 519.0 L1588.0 522.5 L1591.6 526.1 L1595.1 529.6 L1597.5 533.1 L1599.8 536.7 L1600.8 540.8 L1601.6 544.9 L1604.3 547.9 L1606.9 550.8 L1608.7 553.8 L1610.4 556.7 L1612.8 557.5 L1615.1 557.9 L1619.3 557.9 L1623.4 557.9 L1626.3 559.5 L1629.3 561.4 L1631.0 563.8 L1632.8 566.1 L1634.6 568.2 L1636.3 570.2 L1639.3 569.2 L1642.2 567.9 L1646.4 566.4 L1650.5 564.9 L1654.6 564.0 L1658.7 563.2 L1662.3 562.9 L1665.8 562.6 L1668.1 561.2 L1670.5 559.6 L1674.0 559.1 L1677.6 558.5 L1681.1 557.9 L1684.6 557.3 L1688.8 555.9 L1692.9 554.3 L1697.0 552.1 L1701.1 549.6 L1703.7 547.3 L1705.8 544.9 L1706.2 542.0 L1706.4 539.0 L1708.2 536.7 L1710.0 534.3 L1710.8 530.8 L1711.1 527.2 L1711.1 523.7 L1711.1 520.2 L1712.0 516.6 L1712.9 513.1 L1715.3 511.1 L1717.6 509.6 L1721.1 508.3 L1724.7 507.2 L1729.4 506.3 L1734.1 505.5 L1738.2 504.6 L1742.3 503.7 L1745.3 502.5 L1748.0 501.3 L1748.0 501.3 L1751.5 500.5 L1755.1 500.2 L1759.8 500.9 L1764.5 501.3 L1769.2 500.9 L1773.9 500.2 L1776.9 500.5 L1778.6 501.3 L1780.4 504.3 L1781.6 507.2 L1781.0 510.2 L1779.8 513.1 L1778.0 516.1 L1776.3 519.0 L1773.9 521.9 L1771.6 524.9 L1770.1 527.8 L1769.2 530.8 L1768.5 533.7 L1768.0 536.7 L1767.4 541.4 L1766.8 546.1 L1766.3 550.2 L1765.7 554.3 L1764.5 558.5 L1763.3 562.6 L1762.4 567.3 L1761.5 572.6 L1761.5 577.0 L1545.8 577.0 L1545.8 255.8 L1919.6 255.8Z" fill="#d2b48c" stroke="#000" stroke-width="1.8" stroke-linejoin="round"/>
<path d="M1814.5 494.9 L1818.7 494.3 L1823.4 493.1 L1825.1 490.1 L1825.7 487.2 L1828.1 484.0 L1830.4 481.3 L1835.2 478.7 L1839.9 476.6 L1844.6 474.7 L1849.3 473.1 L1855.2 471.4 L1861.1 470.1 L1867.0 469.7 L1872.9 469.5 L1877.6 469.5 L1882.3 469.5 L1885.8 468.1 L1889.3 467.2 L1894.1 467.3 L1898.8 467.8 L1903.5 469.8 L1908.2 471.9 L1912.9 474.6 L1917.6 477.2 L1922.3 479.3 L1927.0 481.3 L1931.7 482.6 L1936.5 483.7 L1941.2 485.0 L1947.1 486.3 L1947.1 518.4 L1943.5 516.9 L1941.2 515.5 L1938.8 513.1 L1936.5 510.8 L1935.3 507.2 L1934.1 503.7 L1932.3 501.7 L1930.6 500.2 L1927.6 499.9 L1924.7 500.2 L1920.0 499.1 L1915.3 497.8 L1910.5 496.2 L1905.8 494.3 L1902.3 492.4 L1898.8 490.7 L1894.1 489.7 L1889.3 489.0 L1885.2 488.4 L1881.1 487.8 L1877.0 487.0 L1872.9 486.0 L1870.5 484.8 L1868.1 483.7 L1871.7 483.2 L1875.2 482.5 L1876.6 481.3 L1877.0 480.1 L1875.2 479.0 L1872.9 478.4 L1868.1 478.2 L1863.4 478.4 L1859.9 478.6 L1856.4 479.0 L1853.4 480.6 L1850.5 482.5 L1847.5 484.8 L1844.6 487.2 L1841.1 488.1 L1837.5 489.0 L1834.0 489.8 L1830.4 490.7 L1829.3 492.1 L1828.1 493.7 L1825.7 495.2 L1823.4 496.6 L1818.7 496.0Z" fill="#d2b48c" stroke="#000" stroke-width="2.0" stroke-linejoin="round"/>
<path d="M1712.0 322.5 L1714.3 319.5 L1716.9 317.9 L1720.7 319.0 L1725.0 321.1 L1722.8 323.6 L1718.5 325.1 L1714.3 324.7Z" fill="#97b6e1" stroke="#000" stroke-width="1.7" stroke-linejoin="round"/>
<ellipse cx="1689.3" cy="559.6" rx="7.4" ry="2.6" transform="rotate(-18 1689.3 559.6)" fill="#97b6e1" stroke="#000" stroke-width="1.5"/>
<path d="M1891.9 386.3 L1896.2 391.1 L1892.5 396.4 L1887.4 391.4Z" fill="#b3b8c0"/>
<path d="M1574.8 422.6 L1580.8 421.5 L1579.8 426.8 L1578.1 433.0 L1576.7 441.9 L1575.8 452.1 L1575.2 462.2 L1573.4 462.2 L1573.0 450.9 L1572.3 441.9 L1574.1 438.6 L1573.4 429.6Z" fill="#41587a" stroke="#000" stroke-width="1.6" stroke-linejoin="round"/>
<path d="M1558.1 260.7 L1562.6 262.7 L1566.0 266.7 L1576.1 276.2 L1580.6 280.2 L1585.1 289.7 L1590.7 301.0 L1596.3 311.1 L1605.3 320.1 L1605.3 328.0 L1607.6 333.6 L1615.5 339.2 L1616.6 345.9 L1620.0 349.3" fill="none" stroke="#97b6e1" stroke-width="1.6" stroke-linejoin="round" stroke-linecap="round"/>
<path d="M1689.4 305.5 L1695.3 312.2 L1698.6 320.1 L1705.4 325.7 L1716.6 326.8 L1721.1 330.2 L1723.4 336.9 L1727.9 340.9 L1733.5 345.9" fill="none" stroke="#97b6e1" stroke-width="1.6" stroke-linejoin="round" stroke-linecap="round"/>
<path d="M1785.7 260.7 L1790.7 268.4 L1789.6 272.9 L1785.1 274.5 L1776.1 274.5 L1769.4 280.7 L1767.1 289.7 L1762.6 296.5 L1759.2 302.1 L1757.6 310.0" fill="none" stroke="#97b6e1" stroke-width="1.6" stroke-linejoin="round" stroke-linecap="round"/>
<path d="M1815.5 311.6 L1812.6 319.0 L1812.1 325.7 L1813.2 330.2" fill="none" stroke="#97b6e1" stroke-width="1.6" stroke-linejoin="round" stroke-linecap="round"/>
<path d="M1550.9 496.0 L1559.8 492.5 L1569.2 489.6 L1573.3 487.8" fill="none" stroke="#97b6e1" stroke-width="1.6" stroke-linejoin="round" stroke-linecap="round"/>
<path d="M1669.9 560.2 L1670.5 566.1 L1676.4 566.7 L1680.5 571.4" fill="none" stroke="#97b6e1" stroke-width="1.6" stroke-linejoin="round" stroke-linecap="round"/>
<path d="M1673.4 559.6 L1677.6 566.1" fill="none" stroke="#97b6e1" stroke-width="1.6" stroke-linejoin="round" stroke-linecap="round"/>
<path d="M1644.1 260.7 L1644.1 283.0 L1648.1 288.6 L1651.4 295.3 L1653.7 302.1 L1652.6 308.8 L1650.3 316.7 L1649.7 325.7 L1647.5 331.3" fill="none" stroke="#000" stroke-width="1.45" stroke-linejoin="round" stroke-linecap="round"/>
<path d="M1699.2 259.4 L1699.2 267.2 L1703.1 276.2 L1697.5 284.1 L1691.9 293.1 L1689.4 301.0 L1689.4 304.6 L1725.1 304.6 L1723.9 312.2 L1726.8 317.8 L1727.9 323.5" fill="none" stroke="#000" stroke-width="1.45" stroke-linejoin="round" stroke-linecap="round"/>
<path d="M1751.4 259.4 L1749.1 289.7 L1749.7 319.0" fill="none" stroke="#000" stroke-width="1.45" stroke-linejoin="round" stroke-linecap="round"/>
<path d="M1809.3 259.4 L1813.2 269.5 L1815.5 277.4 L1811.5 285.2 L1812.6 295.3 L1813.2 304.3 L1816.0 311.1" fill="none" stroke="#000" stroke-width="1.45" stroke-linejoin="round" stroke-linecap="round"/>
<path d="M1768.8 316.7 L1768.2 312.2 L1766.0 308.8 L1764.9 304.6 L1813.2 304.6" fill="none" stroke="#000" stroke-width="1.45" stroke-linejoin="round" stroke-linecap="round"/>
<path d="M1816.0 311.1 L1865.5 314.5 L1866.0 317.8 L1868.9 317.8 L1869.4 310.0 L1871.7 308.6 L1880.7 311.1" fill="none" stroke="#000" stroke-width="1.45" stroke-linejoin="round" stroke-linecap="round"/>
<path d="M1878.4 259.4 L1881.8 268.4 L1886.3 277.4 L1888.0 281.3 L1891.9 281.9" fill="none" stroke="#000" stroke-width="1.45" stroke-linejoin="round" stroke-linecap="round"/>
<path d="M1550.8 402.6 L1564.9 408.8 L1582.9 413.3" fill="none" stroke="#97b6e1" stroke-width="1.7" stroke-linejoin="round" stroke-linecap="round"/>
<path d="M1550.8 402.6 L1564.9 408.8 L1582.9 413.3" fill="none" stroke="#000" stroke-width="1.7" stroke-linejoin="round" stroke-linecap="round" stroke-dasharray="4.2 2" stroke-linecap="butt"/>
<path d="M1742.9 571.4 L1748.0 564.7" fill="none" stroke="#000" stroke-width="1.15" stroke-linejoin="round" stroke-linecap="round" stroke-dasharray="4 2.2"/>
<path d="M1731.4 318.7 L1738.9 317.4 L1746.9 318.5 L1754.9 318.7 L1763.0 317.9 L1771.0 316.6 L1780.0 315.3" fill="none" stroke="#000" stroke-width="2.8" stroke-linejoin="round" stroke-linecap="round"/>
<path d="M1733.5 320.3 L1744.2 321.1 L1754.9 321.4 L1765.7 320.6 L1776.4 318.5" fill="none" stroke="#000" stroke-width="2.2" stroke-linejoin="round" stroke-linecap="round"/>
<path d="M1726.6 323.0 L1728.2 327.8 L1729.8 332.1 L1731.4 336.4 L1732.7 340.7 L1735.1 344.4" fill="none" stroke="#000" stroke-width="5.2" stroke-linejoin="round" stroke-linecap="round"/>
<path d="M1724.4 325.2 L1726.0 327.8" fill="none" stroke="#000" stroke-width="4" stroke-linejoin="round" stroke-linecap="round"/>
<path d="M1734.6 346.6 L1737.3 345.5" fill="none" stroke="#000" stroke-width="3.5" stroke-linejoin="round" stroke-linecap="round"/>
<path d="M1716.9 336.4 L1722.3 338.3 L1727.1 340.7" fill="none" stroke="#000" stroke-width="3.6" stroke-linejoin="round" stroke-linecap="round"/>
<path d="M1695.5 341.8 L1701.4 344.7 L1705.7 343.9 L1710.0 344.4 L1714.3 342.3 L1717.5 339.3" fill="none" stroke="#000" stroke-width="4.6" stroke-linejoin="round" stroke-linecap="round"/>
<path d="M1710.0 341.8 L1712.1 340.7" fill="none" stroke="#000" stroke-width="4" stroke-linejoin="round" stroke-linecap="round"/>
<path d="M1680.0 334.3 L1683.2 331.6 L1685.9 332.1 L1689.1 334.3 L1692.8 335.3 L1696.6 336.9" fill="none" stroke="#000" stroke-width="3.2" stroke-linejoin="round" stroke-linecap="round"/>
<path d="M1741.6 325.2 L1742.1 328.9 L1740.2 332.9 L1735.9 336.9" fill="none" stroke="#000" stroke-width="2.7" stroke-linejoin="round" stroke-linecap="round"/>
<path d="M1757.1 311.5 L1757.1 319.3" fill="none" stroke="#000" stroke-width="5.5" stroke-linejoin="round" stroke-linecap="round"/>
<path d="M1773.1 313.9 L1775.8 313.4" fill="none" stroke="#000" stroke-width="4" stroke-linejoin="round" stroke-linecap="round"/>
<path d="M1598.6 362.3 L1592.1 366.4 L1586.8 372.0 L1582.6 377.0 L1578.6 382.9 L1579.7 389.1 L1581.4 397.0 L1583.8 405.4 L1584.9 411.6" fill="none" stroke="#000" stroke-width="3.6" stroke-linejoin="round" stroke-linecap="round"/>
<path d="M1585.1 367.7 L1586.8 369.4" fill="none" stroke="#000" stroke-width="3" stroke-linejoin="round" stroke-linecap="round"/>
<path d="M1580.0 377.9 L1577.5 379.5" fill="none" stroke="#000" stroke-width="3" stroke-linejoin="round" stroke-linecap="round"/>
<path d="M1577.5 388.5 L1578.9 391.4" fill="none" stroke="#000" stroke-width="3" stroke-linejoin="round" stroke-linecap="round"/>
<path d="M1576.1 382.4 L1573.9 384.0" fill="none" stroke="#000" stroke-width="3.5" stroke-linejoin="round" stroke-linecap="round"/>
<path d="M1581.7 372.2 L1578.4 372.2" fill="none" stroke="#000" stroke-width="3" stroke-linejoin="round" stroke-linecap="round"/>
<path d="M1626.7 334.7 L1630.6 331.3 L1629.5 336.9 L1633.4 336.4" fill="none" stroke="#000" stroke-width="3.2" stroke-linejoin="round" stroke-linecap="round"/>
<path d="M1620.0 348.2 L1625.6 342.6 L1630.1 339.2" fill="none" stroke="#000" stroke-width="3" stroke-linejoin="round" stroke-linecap="round"/>
<path d="M1595.2 356.1 L1600.8 355.5 L1606.5 354.9 L1602.0 359.4 L1597.5 360.0" fill="none" stroke="#000" stroke-width="2.8" stroke-linejoin="round" stroke-linecap="round"/>
<path d="M1679.0 333.0 L1682.9 330.8 L1687.4 333.6 L1685.2 335.8" fill="none" stroke="#000" stroke-width="3" stroke-linejoin="round" stroke-linecap="round"/>
<path d="M1689.7 334.7 L1697.5 334.7" fill="none" stroke="#000" stroke-width="2.5" stroke-linejoin="round" stroke-linecap="round"/>
<path d="M1768.2 317.3 L1775.0 314.5 L1781.7 315.6 L1790.7 316.1 L1797.5 320.6 L1803.1 321.2 L1804.2 325.7 L1807.6 330.8 L1813.2 334.1" fill="none" stroke="#000" stroke-width="3.2" stroke-linejoin="round" stroke-linecap="round"/>
<path d="M1837.9 328.0 L1843.6 335.3 L1849.2 342.6 L1853.7 345.4 L1857.3 349.3 L1858.7 354.9 L1857.9 360.6" fill="none" stroke="#000" stroke-width="3" stroke-linejoin="round" stroke-linecap="round"/>
<path d="M1914.4 262.2 L1908.8 266.1 L1904.3 269.5 L1898.6 271.7 L1893.0 275.1 L1891.9 272.9" fill="none" stroke="#000" stroke-width="3.5" stroke-linejoin="round" stroke-linecap="round"/>
<path d="M1890.8 278.5 L1886.3 284.1 L1883.5 289.7 L1881.8 295.3 L1879.5 301.0 L1879.8 306.6" fill="none" stroke="#000" stroke-width="3.6" stroke-linejoin="round" stroke-linecap="round"/>
<path d="M1893.0 354.9 L1896.4 359.4" fill="none" stroke="#000" stroke-width="3" stroke-linejoin="round" stroke-linecap="round"/>
<path d="M1856.5 362.1 L1854.2 367.7 L1857.6 372.2 L1861.5 371.1 L1859.3 376.7 L1857.6 379.0" fill="none" stroke="#000" stroke-width="4.4" stroke-linejoin="round" stroke-linecap="round"/>
<path d="M1863.8 389.1 L1867.2 393.6 L1868.9 391.4 L1867.2 398.1 L1870.0 400.3 L1872.8 397.0" fill="none" stroke="#000" stroke-width="4.2" stroke-linejoin="round" stroke-linecap="round"/>
<path d="M1875.0 410.5 L1879.5 414.4 L1884.0 418.9 L1886.8 424.0 L1889.7 427.3 L1894.1 427.9 L1898.6 425.6" fill="none" stroke="#000" stroke-width="4" stroke-linejoin="round" stroke-linecap="round"/>
<path d="M1902.6 421.7 L1904.5 415.0" fill="none" stroke="#000" stroke-width="3" stroke-linejoin="round" stroke-linecap="round"/>
<path d="M1885.7 422.3 L1889.1 426.2 L1894.1 427.1 L1899.2 424.5 L1902.6 420.6" fill="none" stroke="#000" stroke-width="6.2" stroke-linejoin="round" stroke-linecap="round"/>
<path d="M1905.4 406.0 L1904.3 413.8 L1902.5 420.6" fill="none" stroke="#000" stroke-width="3.8" stroke-linejoin="round" stroke-linecap="round"/>
<path d="M1902.0 383.5 L1901.1 385.2" fill="none" stroke="#000" stroke-width="2.5" stroke-linejoin="round" stroke-linecap="round"/>
<path d="M1902.0 424.5 L1900.3 428.5 L1897.5 431.3 L1894.1 433.5 L1890.8 435.2" fill="none" stroke="#000" stroke-width="2.6" stroke-linejoin="round" stroke-linecap="round"/>
<path d="M1887.4 436.5 L1882.9 438.3 L1879.0 439.2 L1875.0 440.1 L1871.1 440.8" fill="none" stroke="#000" stroke-width="4" stroke-linejoin="round" stroke-linecap="round"/>
<path d="M1867.2 440.6 L1867.4 440.7" fill="none" stroke="#000" stroke-width="3" stroke-linejoin="round" stroke-linecap="round"/>
<path d="M1883.5 468.9 L1889.3 467.4 L1896.4 468.1 L1904.7 470.7 L1912.9 474.8 L1920.0 479.0 L1927.0 481.9 L1934.1 483.7 L1941.2 485.4 L1947.1 486.6" fill="none" stroke="#000" stroke-width="3.2" stroke-linejoin="round" stroke-linecap="round"/>
<path d="M1917.6 509.8 L1924.7 513.7 L1931.7 517.2 L1938.8 520.4 L1942.3 521.6" fill="none" stroke="#000" stroke-width="2.6" stroke-linejoin="round" stroke-linecap="round"/>
<path d="M1929.4 500.2 L1931.2 504.9" fill="none" stroke="#000" stroke-width="3" stroke-linejoin="round" stroke-linecap="round"/>
<path d="M1936.5 510.8 L1941.2 516.1 L1947.1 519.0" fill="none" stroke="#000" stroke-width="3" stroke-linejoin="round" stroke-linecap="round"/>
<path d="M1857.0 479.5 L1863.4 478.7 L1872.9 479.0 L1876.4 480.7 L1870.5 483.7 L1875.2 486.0 L1881.1 488.1 L1885.8 489.0" fill="none" stroke="#000" stroke-width="2.5" stroke-linejoin="round" stroke-linecap="round"/>
<path d="M1814.5 494.9 L1819.8 494.0 L1823.4 493.3" fill="none" stroke="#000" stroke-width="2.8" stroke-linejoin="round" stroke-linecap="round"/>
<path d="M1822.2 496.9 L1826.9 494.9" fill="none" stroke="#000" stroke-width="2.5" stroke-linejoin="round" stroke-linecap="round"/>
<path d="M1762.1 541.4 L1766.8 539.0 L1765.7 546.1 L1763.3 547.3" fill="none" stroke="#000" stroke-width="2.5" stroke-linejoin="round" stroke-linecap="round"/>
<path d="M1752.7 560.2 L1756.2 555.5 L1758.6 563.8 L1755.1 568.5 L1759.2 571.4" fill="none" stroke="#000" stroke-width="2.5" stroke-linejoin="round" stroke-linecap="round"/>
<path d="M1575.7 497.8 L1578.0 501.3 L1580.4 502.5" fill="none" stroke="#000" stroke-width="3.5" stroke-linejoin="round" stroke-linecap="round"/>
<path d="M1628.4 333.6 L1630.1 334.7" fill="none" stroke="#97b6e1" stroke-width="1.2" stroke-linejoin="round" stroke-linecap="round"/>
<path d="M1757.1 312.8 L1757.1 319.5" fill="none" stroke="#97b6e1" stroke-width="1.5" stroke-linejoin="round" stroke-linecap="round"/>
<path d="M1727.1 326.2 L1730.9 323.0 L1735.1 320.6" fill="none" stroke="#97b6e1" stroke-width="1.5" stroke-linejoin="round" stroke-linecap="round"/>
<path d="M1737.8 320.1 L1751.2 320.6" fill="none" stroke="#97b6e1" stroke-width="1.2" stroke-linejoin="round" stroke-linecap="round" stroke-dasharray="3 2"/>
<path d="M1682.1 332.7 L1683.2 333.5" fill="none" stroke="#97b6e1" stroke-width="1.3" stroke-linejoin="round" stroke-linecap="round"/>
<path d="M1685.9 333.5 L1687.2 334.3" fill="none" stroke="#97b6e1" stroke-width="1.3" stroke-linejoin="round" stroke-linecap="round"/>
<path d="M1733.5 345.5 L1736.2 342.8" fill="none" stroke="#97b6e1" stroke-width="1.3" stroke-linejoin="round" stroke-linecap="round"/>
<ellipse cx="1854.0" cy="499.0" rx="4.3" ry="4.3" transform="rotate(0 1854.0 499.0)" fill="#d2b48c" stroke="#000" stroke-width="1.6"/>
<path d="M1847.5 500.2 L1850.5 502.5 L1856.4 503.1" fill="none" stroke="#000" stroke-width="1.6" stroke-linejoin="round" stroke-linecap="round"/>
<path d="M1838.7 492.5 L1844.6 493.7" fill="none" stroke="#000" stroke-width="1.5" stroke-linejoin="round" stroke-linecap="round"/>
<path d="M1861.1 501.3 L1867.0 499.0 L1872.9 499.6 L1881.1 498.4" fill="none" stroke="#000" stroke-width="2.2" stroke-linejoin="round" stroke-linecap="round" stroke-dasharray="5 3"/>
<path d="M1852.8 489.6 L1858.7 494.3 L1857.5 496.6" fill="none" stroke="#000" stroke-width="1.6" stroke-linejoin="round" stroke-linecap="round" stroke-dasharray="3 2"/>
<ellipse cx="1778.6" cy="523.7" rx="2.4" ry="4.6" transform="rotate(32 1778.6 523.7)" fill="#97b6e1" stroke="#000" stroke-width="1.7"/>
<ellipse cx="1884.0" cy="545.9" rx="3.4" ry="1.4" transform="rotate(5 1884.0 545.9)" fill="#000" stroke="#000" stroke-width="0.5"/>
<ellipse cx="1909.4" cy="538.2" rx="4.0" ry="1.0" transform="rotate(-14 1909.4 538.2)" fill="#000" stroke="#000" stroke-width="0.5"/>
<path d="M1937.4 566.1 L1939.4 563.5 L1943.5 562.1 L1948.2 561.6 L1948.2 570.2 L1942.3 569.7 L1938.8 568.2Z" fill="#d2b48c" stroke="#000" stroke-width="1.6"/>
<path d="M1935.1 438.5 L1940.0 433.2 L1942.1 425.7 L1944.8 422.5 L1946.9 422.5 L1946.9 449.8 L1943.2 446.0 L1939.4 441.9Z" fill="#d2b48c" stroke="#000" stroke-width="3.3" stroke-linejoin="round"/>
<path d="M1942.6 424.1 L1941.6 428.4" fill="none" stroke="#000" stroke-width="4.5" stroke-linejoin="round" stroke-linecap="round"/>
<path d="M1925.6 395.9 L1930.1 399.2 L1933.5 394.7 L1936.9 397.0 L1941.4 397.5 L1945.9 396.8" fill="none" stroke="#000" stroke-width="3" stroke-linejoin="round" stroke-linecap="round"/>
<path d="M1932.4 400.3 L1929.0 399.8" fill="none" stroke="#000" stroke-width="2" stroke-linejoin="round" stroke-linecap="round"/>
<path d="M1936.9 384.6 L1940.8 387.4 L1944.7 389.7" fill="none" stroke="#000" stroke-width="2.5" stroke-linejoin="round" stroke-linecap="round"/>
<path d="M1941.4 390.8 L1941.6 390.9" fill="none" stroke="#000" stroke-width="3" stroke-linejoin="round" stroke-linecap="round"/>
<path d="M1921.1 416.1 L1920.9 419.5" fill="none" stroke="#000" stroke-width="3" stroke-linejoin="round" stroke-linecap="round"/>
<path d="M1921.7 421.1 L1923.9 426.8" fill="none" stroke="#33475f" stroke-width="1.6" stroke-linejoin="round" stroke-linecap="round" stroke-dasharray="2 2"/>
<path d="M1923.9 410.5 L1929.0 411.8" fill="none" stroke="#6f86a8" stroke-width="1.2" stroke-linejoin="round" stroke-linecap="round" stroke-dasharray="2 2"/>
<path d="M1898.4 453.2 L1904.5 451.3" fill="none" stroke="#000" stroke-width="1.8" stroke-linejoin="round" stroke-linecap="round"/>
<path d="M1899.8 457.9 L1900.0 458.0" fill="none" stroke="#000" stroke-width="2" stroke-linejoin="round" stroke-linecap="round"/>
<path d="M1909.3 450.4 L1913.3 457.1 L1916.6 462.7" fill="none" stroke="#1a2535" stroke-width="1.8" stroke-linejoin="round" stroke-linecap="round" stroke-dasharray="3 1.5"/>
<path d="M1853.1 439.1 L1853.3 439.2" fill="none" stroke="#33475f" stroke-width="2" stroke-linejoin="round" stroke-linecap="round"/>
<path d="M1769.8 557.3 L1770.0 560.2" fill="none" stroke="#33475f" stroke-width="1.8" stroke-linejoin="round" stroke-linecap="round" stroke-dasharray="1.5 1.5"/>
<circle cx="1724.1" cy="480.7" r="0.9" fill="#4a607f"/>
<circle cx="1725.9" cy="484.8" r="0.9" fill="#4a607f"/>
<circle cx="1693.5" cy="490.1" r="0.9" fill="#4a607f"/>
<circle cx="1677.6" cy="513.7" r="0.9" fill="#4a607f"/>
<circle cx="1682.9" cy="528.4" r="0.9" fill="#4a607f"/>
<circle cx="1803.7" cy="550.3" r="4.3" fill="#ff0000" stroke="#000" stroke-width="1.25"/>
</g>
<g stroke="#000">
<path d="M1551.3 261.8v-8.7M1551.3 572.4v8.7M1607.6 261.8v-8.7M1607.6 572.4v8.7M1664.0 261.8v-8.7M1664.0 572.4v8.7M1720.3 261.8v-8.7M1720.3 572.4v8.7M1776.6 261.8v-8.7M1776.6 572.4v8.7M1832.9 261.8v-8.7M1832.9 572.4v8.7M1889.3 261.8v-8.7M1889.3 572.4v8.7M1945.6 261.8v-8.7M1945.6 572.4v8.7M1551.3 572.4h-8.7M1945.6 572.4h8.7M1551.3 513.2h-8.7M1945.6 513.2h8.7M1551.3 452.7h-8.7M1945.6 452.7h8.7M1551.3 390.8h-8.7M1945.6 390.8h8.7M1551.3 327.3h-8.7M1945.6 327.3h8.7M1551.3 261.8h-8.7M1945.6 261.8h8.7" stroke-width="3.4"/>
<path d="M1570.1 261.8v-2.8M1570.1 572.4v2.8M1588.9 261.8v-2.8M1588.9 572.4v2.8M1626.4 261.8v-2.8M1626.4 572.4v2.8M1645.2 261.8v-2.8M1645.2 572.4v2.8M1682.7 261.8v-2.8M1682.7 572.4v2.8M1701.5 261.8v-2.8M1701.5 572.4v2.8M1739.1 261.8v-2.8M1739.1 572.4v2.8M1757.8 261.8v-2.8M1757.8 572.4v2.8M1795.4 261.8v-2.8M1795.4 572.4v2.8M1814.2 261.8v-2.8M1814.2 572.4v2.8M1851.7 261.8v-2.8M1851.7 572.4v2.8M1870.5 261.8v-2.8M1870.5 572.4v2.8M1908.0 261.8v-2.8M1908.0 572.4v2.8M1926.8 261.8v-2.8M1926.8 572.4v2.8M1551.3 552.8h-2.8M1945.6 552.8h2.8M1551.3 533.0h-2.8M1945.6 533.0h2.8M1551.3 493.2h-2.8M1945.6 493.2h2.8M1551.3 473.0h-2.8M1945.6 473.0h2.8M1551.3 432.3h-2.8M1945.6 432.3h2.8M1551.3 411.6h-2.8M1945.6 411.6h2.8M1551.3 369.9h-2.8M1945.6 369.9h2.8M1551.3 348.7h-2.8M1945.6 348.7h2.8M1551.3 305.7h-2.8M1945.6 305.7h2.8M1551.3 283.9h-2.8M1945.6 283.9h2.8" stroke-width="1.7"/>
</g>
<g font-size="22.7">
<text x="1536.3" y="581.6" text-anchor="end">18°N</text>
<text x="1536.3" y="522.4" text-anchor="end">21°N</text>
<text x="1536.3" y="461.9" text-anchor="end">24°N</text>
<text x="1536.3" y="400.0" text-anchor="end">27°N</text>
<text x="1536.3" y="336.5" text-anchor="end">30°N</text>
<text x="1536.3" y="271.0" text-anchor="end">33°N</text>
<text transform="translate(1549.1 618.1) rotate(-45)" y="8.2" text-anchor="middle">99°W</text>
<text transform="translate(1605.4 618.1) rotate(-45)" y="8.2" text-anchor="middle">96°W</text>
<text transform="translate(1661.8 618.1) rotate(-45)" y="8.2" text-anchor="middle">93°W</text>
<text transform="translate(1718.1 618.1) rotate(-45)" y="8.2" text-anchor="middle">90°W</text>
<text transform="translate(1774.4 618.1) rotate(-45)" y="8.2" text-anchor="middle">87°W</text>
<text transform="translate(1830.7 618.1) rotate(-45)" y="8.2" text-anchor="middle">84°W</text>
<text transform="translate(1887.1 618.1) rotate(-45)" y="8.2" text-anchor="middle">81°W</text>
<text transform="translate(1943.4 618.1) rotate(-45)" y="8.2" text-anchor="middle">78°W</text>
</g>
<rect x="1666" y="656" width="165.1" height="144.1" rx="3.4" fill="#fff" fill-opacity="0.8" stroke="#ccc" stroke-width="1.7"/>
<path d="M1674.2 675.1H1721.9" stroke="#0000ff" stroke-width="2.6"/>
<circle cx="1697.6" cy="675.1" r="6" fill="#0000ff"/>
<text x="1737.6" y="683.7" font-size="22.7">sg650</text>
<path d="M1674.2 709.4H1721.9" stroke="#ff0000" stroke-width="2.6"/>
<circle cx="1697.6" cy="709.4" r="6" fill="#ff0000"/>
<text x="1737.6" y="717.7" font-size="22.7">RTOFS</text>
<path d="M1674.2 744.1H1721.9" stroke="#008000" stroke-width="2.6"/>
<circle cx="1697.6" cy="744.1" r="6" fill="#008000"/>
<text x="1737.6" y="752.3" font-size="22.7">ESPC</text>
<path d="M1674.2 778.4H1721.9" stroke="#ff00ff" stroke-width="2.6"/>
<circle cx="1697.6" cy="778.4" r="6" fill="#ff00ff"/>
<text x="1737.6" y="786.5" font-size="22.7">CMEMS</text>
</svg>
</body></html>
